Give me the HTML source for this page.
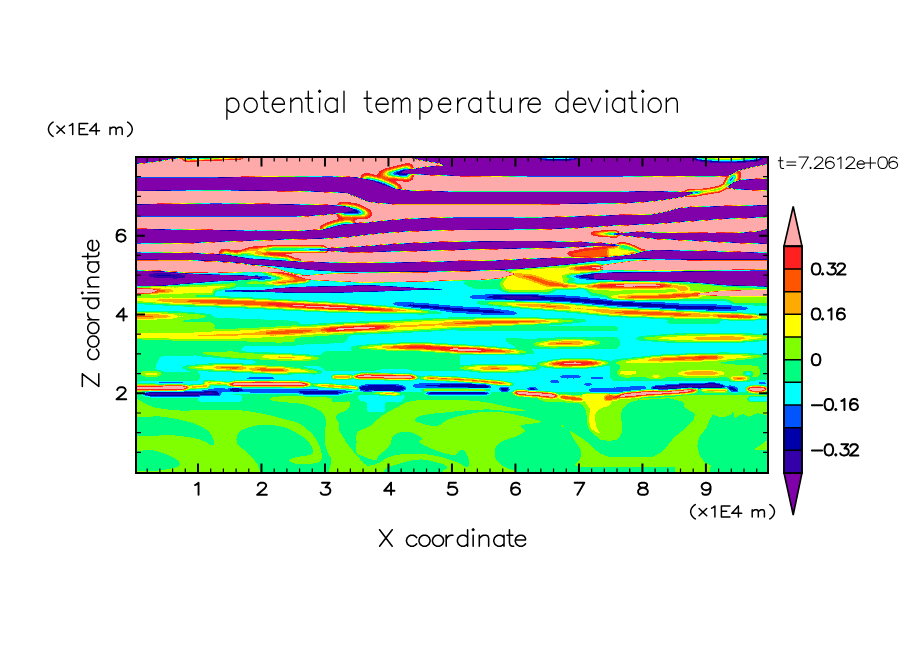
<!DOCTYPE html>
<html><head><meta charset="utf-8"><title>potential temperature deviation</title>
<style>
html,body{margin:0;padding:0;background:#fff;}
body{width:904px;height:654px;overflow:hidden;font-family:"Liberation Sans",sans-serif;}
svg{display:block}
text{font-family:"Liberation Sans",sans-serif;fill:#000}
</style></head><body>
<svg width="904" height="654" viewBox="0 0 904 654">
<defs>
<filter id="q" filterUnits="userSpaceOnUse" x="100" y="120" width="700" height="390" color-interpolation-filters="sRGB">
<feComponentTransfer>
<feFuncR type="discrete" tableValues="0.502 0.2 0 0 0 0 0.502 1 1 1 1 1"/>
<feFuncG type="discrete" tableValues="0 0 0 0.333 1 1 1 1 0.667 0.333 0.125 0.667"/>
<feFuncB type="discrete" tableValues="0.667 0.667 0.667 1 1 0.502 0 0 0 0 0.125 0.667"/>
<feFuncA type="discrete" tableValues="1 1"/>
</feComponentTransfer>
</filter>
<clipPath id="pc"><rect x="136" y="157" width="632" height="316"/></clipPath>
<filter id="bl0_6" filterUnits="userSpaceOnUse" x="100" y="120" width="700" height="390" color-interpolation-filters="sRGB"><feGaussianBlur stdDeviation="0.6"/></filter>
<filter id="bl0_7" filterUnits="userSpaceOnUse" x="100" y="120" width="700" height="390" color-interpolation-filters="sRGB"><feGaussianBlur stdDeviation="0.7"/></filter>
<filter id="bl1_0" filterUnits="userSpaceOnUse" x="100" y="120" width="700" height="390" color-interpolation-filters="sRGB"><feGaussianBlur stdDeviation="1.0"/></filter>
<filter id="bl1_4" filterUnits="userSpaceOnUse" x="100" y="120" width="700" height="390" color-interpolation-filters="sRGB"><feGaussianBlur stdDeviation="1.4"/></filter>
<filter id="bl1_6" filterUnits="userSpaceOnUse" x="100" y="120" width="700" height="390" color-interpolation-filters="sRGB"><feGaussianBlur stdDeviation="1.6"/></filter>
<filter id="bl1_8" filterUnits="userSpaceOnUse" x="100" y="120" width="700" height="390" color-interpolation-filters="sRGB"><feGaussianBlur stdDeviation="1.8"/></filter>
<filter id="bl2_5" filterUnits="userSpaceOnUse" x="100" y="120" width="700" height="390" color-interpolation-filters="sRGB"><feGaussianBlur stdDeviation="2.5"/></filter>
<filter id="bl2_6" filterUnits="userSpaceOnUse" x="100" y="120" width="700" height="390" color-interpolation-filters="sRGB"><feGaussianBlur stdDeviation="2.6"/></filter>
</defs>
<rect width="904" height="654" fill="#fff"/>
<g clip-path="url(#pc)"><g filter="url(#q)">
<g>
<rect fill="rgb(96,96,96)" x="130" y="150" width="650" height="330"/>
<rect fill="rgb(117,117,117)" x="130" y="392" width="650" height="90"/>
</g>
<g>
<path fill="rgb(138,138,138)" d="M130,398.5C131.2,395.8 133.1,397.6 137,399C140.9,400.4 146.5,405.1 153.7,407C160.9,408.9 171.1,410.1 180,410.5C188.9,410.9 196.7,409.7 207,409.7C217.3,409.7 231.7,409.6 242,410.5C252.3,411.4 260.7,413.3 268.7,415C276.7,416.7 285.2,419.2 290,420.5C294.8,421.8 294.8,421.4 297.5,422.7C300.2,424 303.4,426 306.3,428.4C309.2,430.8 312.7,434.1 315,437.2C317.3,440.3 318.8,443.9 320,447.2C321.2,450.5 322.2,454.7 322,457.2C321.8,459.7 321,461.1 318.8,462.2C316.6,463.3 312.6,463.5 308.8,463.8C305.1,464.1 299.4,464.2 296.3,463.8C293.2,463.4 291.1,462.2 290,461.5C288.9,460.8 289.4,460.1 290,459.5C290.6,458.9 291.7,458.4 293.8,457.8C295.9,457.2 299.5,456.6 302.5,456C305.5,455.4 310.4,455.5 312,454C313.6,452.5 312.9,449.6 312,447.2C311.1,444.8 308.7,442 306.3,439.7C303.9,437.4 300.2,435.1 297.5,433.4C294.8,431.7 293.3,430.9 290,429.6C286.7,428.3 283.2,426.5 277.6,425.8C272,425.1 262.3,424.9 256.4,425.6C250.5,426.3 245.4,428.1 242.2,430C238.9,431.9 237.6,434.7 236.9,437.1C236.2,439.5 236.3,441.8 237.8,444.2C239.3,446.6 243.2,448.9 245.7,451.3C248.2,453.7 250.7,456 252.8,458.3C254.9,460.6 256.9,463.2 258.1,465.4C259.3,467.6 259.2,469.8 259.9,471.6C260.5,473.4 283.6,475.3 262,476C240.3,476.7 152,476.7 130,476C108,475.3 126,472.4 130,471.6C133.9,470.8 146.1,471.7 153.7,471C161.3,470.3 171.5,468.6 175.8,467.2C180.1,465.8 180.1,464.6 179.4,462.8C178.7,461 175.7,458.7 171.4,456.6C167.1,454.5 160.6,451.5 153.7,450.4C146.8,449.3 133.9,452.3 130,450C126,447.7 128.7,438.8 130,436.5C131.3,434.2 130.9,436.4 137.8,436.2C144.7,436 161.4,434.9 171.4,435.3C181.4,435.8 191.1,437.3 198,438.9C204.9,440.5 210.5,445.1 213,445.1C215.5,445.1 214,441.4 213,438.9C212,436.4 211,432.8 207,430C203,427.2 196.4,424.2 189,422C181.6,419.8 172.3,417.8 162.5,416.7C152.7,415.6 135.4,418.5 130,415.5C124.6,412.5 128.8,401.2 130,398.5Z"/>
<path fill="rgb(138,138,138)" d="M272,397.5C275,396.8 280.7,396 290,396C299.3,396 320.5,396.6 327.6,397.6C334.7,398.6 329.9,401.3 332.6,402C335.3,402.7 341.3,402.1 344,402C346.7,401.9 348,400.8 349,401.4C350,402 350.8,404.2 350.2,405.8C349.6,407.4 347.3,409.4 345.2,410.8C343.1,412.2 339.2,412.8 337.7,414C336.2,415.2 336.2,416.7 336.4,418.3C336.6,419.9 338.5,421.5 338.9,423.4C339.3,425.3 338,427.1 338.9,429.6C339.8,432.1 342.3,435.7 344,438.4C345.7,441.1 347.1,443.5 349,446C350.9,448.5 353,451 355.2,453.5C357.4,456 359.5,458.8 362,461C364.5,463.2 365.7,465.4 370,466.5C374.3,467.6 385,465.7 388,467.3C391,468.9 397,474.6 388,476C379,477.4 343.4,478.7 334,476C324.6,473.3 332.5,463.7 331.4,459.7C330.3,455.7 328.7,454.7 327.6,452.2C326.6,449.7 325.6,447.4 325.1,444.7C324.6,442 324.4,439.4 324.5,435.9C324.6,432.3 325.8,426.9 325.7,423.4C325.6,419.8 325.7,417.1 323.9,414.6C322.1,412.1 318.7,410.1 315.1,408.3C311.5,406.5 306.7,404.8 302.5,403.9C298.3,403 295.1,403.3 290,402.7C284.9,402.1 275,401.4 272,400.5C269,399.6 269,398.2 272,397.5Z"/>
<path fill="rgb(138,138,138)" d="M357.7,432.1C360,429.4 366.5,428.4 370.3,425.9C374.1,423.4 377,419.6 380.3,417.1C383.6,414.6 387,412.7 390.3,410.8C393.6,408.9 397.1,407.3 400,405.8C402.9,404.3 403,403 407.6,402C412.2,401 419.6,400.1 427.7,399.8C435.8,399.5 446.9,399.7 456,400C465.1,400.3 473.7,400.5 482.5,401.7C491.3,402.9 501.9,405.5 509,407C516.1,408.5 522,408.9 525,410.5C528,412.1 524.1,414.8 526.8,416.7C529.5,418.6 541.6,420.4 541,421.7C540.4,423 526.5,423.8 523.3,424.7C520,425.6 521.2,426.4 521.5,427.4C521.8,428.4 526.2,429.3 525,430.9C523.8,432.5 518.5,435.2 514.4,437.1C510.3,439 503.4,440.3 500.2,442.4C497,444.5 495.7,446.9 495,449.5C494.3,452.1 494.6,455.7 495.8,458.3C497,460.9 498.6,463.2 502,465.4C505.4,467.6 513.5,469.8 516.2,471.6C518.9,473.4 542,475.3 518,476C494,476.7 396.7,477.7 372,476C347.3,474.3 371.2,468.5 370,466C368.8,463.5 366.6,462.7 365,461C363.4,459.3 361.6,457.5 360.2,456C358.8,454.5 357.1,454.5 356.5,452.2C355.9,449.9 356.3,445.5 356.5,442.2C356.7,438.9 355.4,434.8 357.7,432.1Z"/>
<path fill="rgb(117,117,117)" d="M415.1,419C415.9,417.9 418,416.2 422.6,415.2C427.2,414.1 435.2,413.5 442.7,412.7C450.2,411.9 459.9,410.7 467.8,410.2C475.7,409.7 483.1,409.4 490,409.6C496.9,409.8 502.8,410.9 509,411.2C515.2,411.5 523.8,410.4 527,411.3C530.2,412.2 531,416.5 528,416.8C525,417.1 515.3,414.1 509,413.2C502.7,412.3 495.6,411.7 490,411.6C484.4,411.6 480.2,412.2 475.3,412.9C470.4,413.6 464.9,414.7 460.3,415.8C455.7,416.9 451.1,418.1 447.7,419.6C444.3,421.1 443.1,423.9 440.2,424.9C437.3,425.9 434,426.1 430.2,425.6C426.4,425.1 420.1,423.2 417.6,422.1C415.1,421 414.3,420.1 415.1,419Z"/>
<path fill="rgb(117,117,117)" d="M378,456.5C378.8,454.7 381,454 383,452C385,450 388.4,447.2 390,444.7C391.6,442.2 391,439.2 392.5,437.2C394,435.2 396.1,433.6 398.8,432.8C401.5,432 405.7,431.7 408.8,432.1C411.9,432.5 415.4,434.2 417.6,435.3C419.8,436.4 421.8,438 422,439C422.2,440 418.6,440.4 418.9,441.5C419.2,442.6 421.6,444 423.9,445.3C426.2,446.6 429.1,447.7 432.7,449.1C436.2,450.5 441.4,452.6 445.2,453.5C449,454.4 452.8,455.2 455.3,454.7C457.8,454.2 458.9,451 460.3,450.3C461.8,449.6 462.8,449.2 464,450.3C465.2,451.4 467,455 467.8,457.2C468.6,459.4 469.2,461.9 469,463.5C468.8,465.1 467.9,466.6 466.5,466.6C465.1,466.6 463,464.6 460.3,463.5C457.6,462.4 454.2,460.9 450.2,459.7C446.2,458.4 441,456.9 436.4,456C431.8,455.1 427.8,454.4 422.6,454.1C417.4,453.8 410.1,453.8 405.1,454.1C400.1,454.4 396.1,455.1 392.5,456C388.9,456.9 386.2,458.5 383.8,459.7C381.4,460.9 379,463.5 378,463C377,462.5 377.2,458.3 378,456.5Z"/>
<path fill="rgb(117,117,117)" d="M361,455L363.6,456.1L365.9,457.4L367.5,458.4L369.3,458.9L371.7,459.6L373.5,460L375.6,460L378.3,460.3L381,461L381,461L378.7,462.7L376.4,464L373.5,465L370.5,464.4L367.9,463.7L364.9,462.7L363,460.1L361.8,457.7L361,455Z"/>
<path fill="rgb(117,117,117)" d="M387.5,476C378.3,474.6 386,469.2 387.5,467.3C389,465.4 392.3,465.9 396.3,464.7C400.3,463.5 406.8,461.2 411.4,460.4C416,459.6 419.7,459.4 423.9,459.7C428.1,460 432.8,461.2 436.4,462.2C439.9,463.1 443.4,464.3 445.2,465.4C447,466.4 447.5,467.6 447.1,468.5C446.7,469.4 443.4,469.8 442.7,471C442,472.2 451.9,475.2 442.7,476C433.5,476.8 396.7,477.4 387.5,476Z"/>
<path fill="rgb(117,117,117)" d="M452,456C452.7,455.5 454.4,455.8 456,454.8C457.6,453.8 459.5,449.8 461.3,449.8C463.1,449.8 465.4,452.6 466.6,454.8C467.8,457 468.7,460.7 468.7,462.8C468.7,464.9 468.7,467.7 466.6,467.2C464.5,466.7 458.4,461.5 456,460C453.6,458.5 452.7,458.7 452,458C451.3,457.3 451.3,456.5 452,456Z"/>
<path fill="rgb(138,138,138)" d="M545,396C559.5,395.1 616.5,395.4 632,396C647.5,396.6 638.5,398.5 637.8,399.8C637.1,401.1 630.4,401.8 627.7,403.9C625,405.9 622.4,407.8 621.5,412.1C620.6,416.4 622.3,425.6 622.1,429.6C621.9,433.6 621.4,434.1 620.2,435.9C619.1,437.7 618.1,439.6 615.2,440.3C612.3,441 605.5,440.8 602.6,440.3C599.7,439.8 599.7,438.8 597.6,437.2C595.5,435.6 591.9,433.2 590.1,430.9C588.3,428.6 587.6,426.3 587,423.4C586.4,420.5 586.8,416 586.3,413.3C585.8,410.6 585,408.7 583.8,407C582.5,405.3 581.5,404 578.8,403.3C576.1,402.6 573.1,403 567.5,402.7C561.9,402.4 548.8,402.6 545,401.5C541.2,400.4 530.5,396.9 545,396Z"/>
<path fill="rgb(138,138,138)" d="M637.8,399.8L642.5,398.5L669,397L690,395L780,395L780,415L766.8,415L757.6,413.2L748.7,416.7L743.4,414.1L738.1,415.9L735,418.8L733,411L731,415L722.2,417.6L712.5,415L709.8,419.4L706.3,428.2L699.2,437.1L697.4,445.9L699.2,454.8L704.5,461.9L711.6,465.8L709.8,467.2L709.8,476L675,476L675,467.3L578.8,467.3L575,464.7L580.1,459.7L581.3,451L577.6,444.7L572.5,437.2L569.4,430.6L576.3,434.6L585.1,440.3L592.6,447.2L600.1,453.5L610.2,457.2L630.2,456.6L651.4,457.5L660.2,453L667.3,445.9L674.4,437.1L683.3,430L693.9,419.4L694.8,414.1L684.1,407L683.3,401.7L669,398.2L642.5,399.9Z"/>
<path fill="rgb(138,138,138)" d="M754,449.5L766.8,440.6L780,436L780,451Z"/>
<path fill="rgb(138,138,138)" d="M560,424.5L563,425.2L565.5,427.5L563,427Z"/>
</g>
<g filter="url(#bl0_6)">
<path fill="rgb(159,159,159)" d="M583.8,394C588.2,393.1 605.8,392.2 610.2,394C614.6,395.8 611.7,402.1 610.2,404.5C608.7,406.9 603.8,406.8 601.4,408.3C599,409.8 596.7,410.8 595.7,413.3C594.8,415.8 595.4,420.7 595.7,423.4C596,426.1 596.9,427.9 597.6,429.6C598.3,431.3 600.3,433 600.1,433.4C599.9,433.8 597.9,432.9 596.4,432.1C594.9,431.3 592.5,429.8 591.4,428.4C590.2,426.9 589.8,425.9 589.5,423.4C589.2,420.9 589.5,415.8 589.5,413.3C589.5,410.8 589.9,409.8 589.5,408.3C589.1,406.8 588,406 587,404.5C586,403 584.3,401.2 583.8,399.5C583.3,397.8 579.4,394.9 583.8,394Z"/>
</g>
<g filter="url(#bl2_5)">
<path fill="rgb(117,117,117)" d="M130,314L300,321L300,345L130,345.5Z"/>
<path fill="rgb(117,117,117)" d="M130,345L245,345L235,356L130,356Z"/>
<path fill="rgb(117,117,117)" d="M255,359L330,356L330,366L255,366Z"/>
<path fill="rgb(121,121,121)" d="M150,372L200,372L200,381L150,381Z"/>
<path fill="rgb(117,117,117)" d="M130,356L160,356L150,381L130,382Z"/>
<path fill="rgb(117,117,117)" d="M296,333L352,333L345,343L296,345Z"/>
<path fill="rgb(117,117,117)" d="M322,351L460,352L460,371L322,371Z"/>
<path fill="rgb(117,117,117)" d="M456,326L620,326L620,331.5L456,331.5Z"/>
<path fill="rgb(117,117,117)" d="M498,338L620,337L620,349L520,349Z"/>
<path fill="rgb(117,117,117)" d="M610,360L780,358L780,381L610,381Z"/>
<path fill="rgb(117,117,117)" d="M665,320L722,320L722,324.5L665,324.5Z"/>
<path fill="rgb(117,117,117)" d="M456,281L500,280L508,289L474,289Z"/>
<path fill="rgb(117,117,117)" d="M588,289L616,288.5L616,297L590,297Z"/>
<path fill="rgb(138,138,138)" d="M130,322L215,322L215,330L130,330Z"/>
<path fill="rgb(138,138,138)" d="M240,340L296,337L296,343.5L250,344Z"/>
<path fill="rgb(138,138,138)" d="M620,362L700,362L760,366L760,378L620,378Z"/>
<path fill="rgb(138,138,138)" d="M379,359L402,359L402,362.5L379,362.5Z"/>
<path fill="rgb(159,159,159)" d="M725,297.5L780,297.5L780,303L735,303.5Z"/>
<path fill="rgb(159,159,159)" d="M510,268.5L560,265L582,267L596,271L566,281L550,292L505,292L500,284Z"/>
<path fill="rgb(181,181,181)" d="M236,284.5L272,283.8L300,281L304,276.5L285,274.5L270,280L236,282.5Z"/>
</g>
<g filter="url(#bl1_8)">
<path fill="rgb(159,159,159)" d="M60,298L65.5,297.7L71.1,297.4L76.6,297.3L82.1,297.1L87.7,297L93.2,296.9L98.8,296.7L104.3,296.6L109.8,296.5L115.4,296.4L120.9,296.3L126.5,296.3L132,296.2L137.5,296.2L143.1,296.3L148.6,296.3L154.2,296.3L159.7,296.3L165.2,296.3L170.8,296.3L176.3,296.3L181.8,296.5L187.4,296.7L192.9,296.8L198.4,297L203.9,297.2L209.5,297.3L215,297.5L220.5,297.7L226.1,297.8L231.6,298L237.2,298.2L242.7,298.4L248.3,298.7L253.8,299L259.3,299.3L264.9,299.6L270.4,299.9L275.9,300.2L281.4,300.5L287,300.8L292.5,301.1L298,301.3L303.5,301.6L309,301.9L314.6,302.1L320.1,302.4L325.6,302.6L331.2,302.9L336.7,303.3L342.2,303.7L347.7,304.1L353.2,304.6L358.7,305L364.3,305.4L369.8,305.8L375.3,306.3L380.8,306.7L386.3,307.1L391.9,307.6L397.4,308L402.9,308.5L408.4,309L413.9,309.5L419.5,310L425,310.5L430.5,311.1L436,311.7L441.5,312.3L447,313L447,313L441.5,313.1L435.9,313.1L430.4,313.1L424.8,313L419.3,312.9L413.8,312.8L408.2,312.7L402.7,312.6L397.2,312.5L391.6,312.4L386.1,312.4L380.6,312.3L375,312.2L369.5,312.1L364,312L358.4,311.9L352.9,311.8L347.4,311.7L341.8,311.6L336.3,311.5L330.7,311.4L325.2,311.1L319.7,310.9L314.2,310.6L308.6,310.4L303.1,310.1L297.6,309.8L292,309.5L286.5,309.2L281,309L275.5,308.7L269.9,308.4L264.4,308.1L258.9,307.8L253.4,307.5L247.8,307.2L242.3,306.9L236.9,306.7L231.3,306.5L225.8,306.3L220.3,306.2L214.8,306L209.2,305.8L203.7,305.7L198.2,305.5L192.6,305.3L187.1,305.2L181.6,305L176,304.8L170.5,304.5L165,304.2L159.5,303.8L153.9,303.5L148.4,303.2L142.9,302.9L137.4,302.5L131.8,302.2L126.3,301.8L120.8,301.6L115.3,301.3L109.8,301L104.2,300.7L98.7,300.5L93.2,300.2L87.6,299.9L82.1,299.6L76.6,299.2L71.1,298.9L65.5,298.5L60,298Z"/>
<path fill="rgb(212,212,212)" d="M150,300.3L155.4,300.1L160.7,300L166.1,300L171.4,299.9L176.8,299.9L182.1,299.9L187.5,299.8L192.8,299.8L198.2,299.8L203.5,299.8L208.9,299.8L214.2,299.8L219.6,299.8L225,299.8L230.3,299.8L235.7,299.9L241.1,300.1L246.4,300.3L251.8,300.6L257.1,300.9L262.5,301.2L267.8,301.5L273.1,301.8L278.5,302.1L283.8,302.3L289.2,302.6L294.5,302.9L299.9,303.2L305.2,303.4L310.5,303.7L315.9,303.9L321.2,304.2L326.6,304.4L331.9,304.7L337.3,304.9L342.6,305.2L348,305.5L353.3,305.9L358.6,306.3L364,306.7L369.3,307L374.7,307.4L380,307.8L385.3,308.2L390.7,308.6L396,309L401.4,309.4L406.7,309.9L412,310.4L417.4,311L422.7,311.5L428,312.2L428,312.2L422.6,312.2L417.3,312L411.9,311.9L406.6,311.7L401.2,311.5L395.9,311.4L390.5,311.3L385.2,311.2L379.8,311.1L374.5,311L369.1,310.9L363.8,310.8L358.4,310.6L353.1,310.5L347.7,310.4L342.4,310.2L337,309.9L331.7,309.7L326.3,309.4L321,309.2L315.7,308.9L310.3,308.7L305,308.4L299.6,308.2L294.3,307.9L288.9,307.6L283.6,307.3L278.2,307.1L272.9,306.8L267.5,306.5L262.2,306.2L256.8,305.9L251.5,305.6L246.2,305.3L240.8,305L235.5,304.9L230.2,304.7L224.8,304.4L219.5,304.2L214.1,303.9L208.8,303.7L203.5,303.4L198.1,303.1L192.8,302.9L187.4,302.6L182.1,302.3L176.7,302L171.4,301.7L166,301.4L160.7,301.1L155.3,300.7L150,300.3Z"/>
<path fill="rgb(253,253,253)" d="M262,303.5L266.8,303.5L271.5,303.6L276.3,303.7L281.1,303.8L285.8,303.9L290.6,304.1L295.4,304.2L300.1,304.3L304.9,304.4L309.6,304.6L314.4,304.8L319.2,305.1L323.9,305.3L328.7,305.5L333.4,305.7L338.2,305.9L343,306.1L347.7,306.4L352.5,306.6L357.2,306.8L362,307.1L366.7,307.5L371.5,307.9L376.3,308.2L381,308.6L385.8,309L390.5,309.4L395.3,309.9L400,310.4L400,310.4L395.2,310.5L390.5,310.5L385.7,310.5L380.9,310.4L376.2,310.3L371.4,310.3L366.6,310.2L361.9,310.1L357.1,310L352.3,309.8L347.6,309.6L342.8,309.3L338.1,309.1L333.3,308.9L328.5,308.7L323.8,308.5L319,308.2L314.3,308L309.5,307.8L304.7,307.6L300,307.3L295.2,306.9L290.5,306.5L285.7,306L281,305.6L276.2,305.1L271.5,304.6L266.7,304.1L262,303.5Z"/>
<path fill="rgb(149,149,149)" d="M80,316.5L84.8,315.7L89.6,315.1L94.4,314.7L99.1,314.2L103.9,313.8L108.7,313.4L113.5,313L118.3,312.6L123.1,312.5L127.8,312.5L132.6,312.5L137.4,312.4L142.2,312.4L147,312.4L151.8,312.3L156.5,312.3L161.3,312.3L166.1,312.3L170.9,312.2L175.7,312.4L180.5,312.7L185.3,313.1L190.1,313.4L194.8,313.8L199.6,314.2L204.4,314.7L209.2,315.2L214,316L214,316L209.2,316.8L204.4,317.4L199.7,317.9L194.9,318.4L190.1,318.8L185.3,319.3L180.5,319.7L175.7,320.1L171,320.2L166.2,320.3L161.4,320.3L156.6,320.3L151.8,320.3L147,320.4L142.2,320.4L137.5,320.4L132.7,320.5L127.9,320.5L123.1,320.5L118.3,320.4L113.5,320L108.7,319.6L103.9,319.2L99.1,318.8L94.4,318.3L89.6,317.9L84.8,317.3L80,316.5Z"/>
<path fill="rgb(198,198,198)" d="M90,316.5L94.3,315.9L98.6,315.4L102.9,315L107.2,314.7L111.5,314.4L115.8,314L120.1,314L124.4,314L128.7,314L133,314L137.3,314L141.6,314L145.9,314L150.2,314L154.5,314.3L158.8,314.6L163.1,314.9L167.4,315.3L171.7,315.7L176,316.3L176,316.3L171.7,316.9L167.4,317.4L163.1,317.8L158.8,318.1L154.5,318.4L150.2,318.8L145.9,318.8L141.6,318.8L137.3,318.8L133,318.8L128.7,318.8L124.4,318.8L120.1,318.8L115.8,318.8L111.5,318.5L107.2,318.2L102.9,317.9L98.6,317.5L94.3,317.1L90,316.5Z"/>
<path fill="rgb(149,149,149)" d="M70,335L75.7,334.6L81.3,334.3L87,334.1L92.6,333.9L98.3,333.7L103.9,333.5L109.6,333.4L115.3,333.2L120.9,333.1L126.6,332.9L132.2,332.8L137.9,332.6L143.6,332.5L149.2,332.4L154.9,332.2L160.5,332.1L166.2,332L171.8,331.9L177.5,331.7L183.2,331.6L188.7,331.5L194.3,331.2L199.9,330.9L205.6,330.6L211.2,330.3L216.9,330L222.5,329.6L228.2,329.4L233.8,329.2L239.5,329.1L245,328.8L250.6,328.5L256.3,328.2L261.9,327.9L267.6,327.6L273.2,327.3L278.9,326.9L284.5,326.6L290.2,326.3L295.8,326L301.5,325.7L307.1,325.4L312.8,325L318.4,324.7L324.1,324.4L329.7,324.1L335.3,323.8L341,323.4L346.7,323.1L352.4,322.9L358,322.6L363.7,322.4L369.3,322.2L375,321.9L380.6,321.7L386.3,321.4L391.9,321.2L397.6,321L403.2,320.7L408.8,320.4L414.5,320.1L420.1,319.9L425.8,319.6L431.4,319.3L437.1,319.1L442.7,318.9L448.4,318.8L454.1,318.6L459.8,318.6L465.4,318.5L471.1,318.4L476.7,318.4L482.4,318.3L488.1,318.3L493.7,318.2L499.4,318.2L505.1,318.3L510.8,318.4L516.4,318.5L522.1,318.6L527.8,318.7L533.4,318.8L539.1,318.9L544.7,319L550.4,319.2L556,319.3L561.7,319.4L567.4,319.6L573,319.7L578.7,319.9L584.3,320.1L590,320.5L590,320.5L584.4,321.1L578.7,321.5L573.1,321.8L567.4,322.2L561.7,322.5L556.1,322.8L550.4,323.1L544.8,323.4L539.1,323.7L533.5,323.9L527.8,324.2L522.2,324.4L516.5,324.7L510.9,325L505.2,325.2L499.6,325.5L494,325.9L488.4,326.2L482.7,326.6L477.1,327L471.4,327.4L465.8,327.8L460.1,328.1L454.5,328.5L448.9,329L443.3,329.4L437.6,329.9L432,330.3L426.3,330.5L420.7,330.8L415,331.1L409.4,331.4L403.7,331.7L398,332L392.4,332.2L386.7,332.4L381.1,332.7L375.4,332.9L369.8,333.1L364.1,333.4L358.5,333.6L352.8,333.8L347.2,334.1L341.6,334.4L336,334.7L330.3,335.1L324.7,335.4L319,335.7L313.4,336L307.7,336.3L302.1,336.7L296.4,337L290.8,337.3L285.1,337.6L279.5,337.9L273.8,338.2L268.2,338.6L262.6,338.9L256.9,339.2L251.3,339.5L245.6,339.8L239.9,340.1L234.2,340.2L228.5,340.4L222.9,340.5L217.2,340.5L211.5,340.5L205.9,340.5L200.2,340.5L194.5,340.5L188.8,340.5L183.1,340.3L177.4,340.1L171.8,339.8L166.1,339.6L160.5,339.4L154.8,339.2L149.2,339L143.5,338.7L137.8,338.5L132.2,338.3L126.5,338L120.9,337.8L115.2,337.5L109.6,337.3L103.9,337L98.3,336.8L92.6,336.5L87,336.2L81.3,335.9L75.7,335.5L70,335Z"/>
<path fill="rgb(172,172,172)" d="M70,335L75.7,334.8L81.3,334.7L87,334.6L92.6,334.5L98.3,334.5L103.9,334.4L109.6,334.3L115.3,334.3L120.9,334.2L126.6,334.2L132.2,334.1L137.9,334.1L143.5,334L149.2,334L154.9,334L160.5,333.9L166.2,333.9L171.8,333.9L177.5,333.8L183.1,333.8L188.8,333.7L194.4,333.6L200,333.3L205.7,333.1L211.3,332.8L217,332.6L222.6,332.4L228.3,332.1L233.9,332L239.6,331.8L245.2,331.6L250.8,331.3L256.4,330.9L262.1,330.6L267.7,330.3L273.4,330L279,329.7L284.7,329.4L290.3,329.1L296,328.7L301.6,328.4L307.3,328.1L312.9,327.8L318.6,327.5L324.2,327.1L329.9,326.8L335.5,326.5L341.2,326.2L346.8,325.9L352.5,325.6L358.1,325.4L363.8,325.1L369.4,324.9L375.1,324.7L380.7,324.4L386.4,324.2L392,324L397.7,323.7L403.3,323.5L409,323.2L414.6,322.9L420.3,322.6L425.9,322.3L431.6,322L437.2,321.8L442.9,321.5L448.5,321.3L454.2,321.1L459.9,321L465.5,320.8L471.2,320.7L476.8,320.5L482.5,320.4L488.1,320.3L493.8,320.1L499.5,320L505.1,320L510.8,320L516.5,320L522.1,320L527.8,320.1L533.4,320.1L539.1,320.1L544.7,320.1L550.4,320.1L556.1,320.2L561.7,320.2L567.4,320.2L573,320.3L578.7,320.3L584.3,320.4L590,320.5L590,320.5L584.3,320.8L578.7,321.1L573,321.3L567.4,321.5L561.7,321.7L556.1,321.9L550.4,322.1L544.8,322.3L539.1,322.5L533.5,322.6L527.8,322.8L522.2,323L516.5,323.1L510.8,323.3L505.2,323.5L499.6,323.6L493.9,323.9L488.3,324.2L482.6,324.6L477,324.9L471.3,325.1L465.7,325.4L460,325.7L454.4,326.1L448.8,326.4L443.1,326.8L437.5,327.2L431.8,327.5L426.2,327.8L420.6,328.1L414.9,328.4L409.3,328.7L403.6,329L397.9,329.2L392.3,329.5L386.6,329.7L381,329.9L375.3,330.2L369.7,330.4L364,330.6L358.4,330.9L352.7,331.1L347.1,331.4L341.5,331.7L335.8,332L330.2,332.3L324.5,332.6L318.9,333L313.2,333.3L307.6,333.6L301.9,333.9L296.3,334.2L290.6,334.6L285,334.9L279.3,335.2L273.7,335.5L268,335.8L262.4,336.1L256.8,336.4L251.1,336.7L245.4,337.1L239.8,337.3L234.1,337.5L228.4,337.6L222.8,337.8L217.1,337.8L211.5,337.9L205.8,338L200.1,338.1L194.5,338.2L188.8,338.2L183.1,338.1L177.4,338L171.8,337.8L166.1,337.7L160.5,337.6L154.8,337.4L149.2,337.3L143.5,337.2L137.9,337L132.2,336.9L126.5,336.8L120.9,336.6L115.2,336.5L109.6,336.3L103.9,336.2L98.3,336L92.6,335.8L87,335.7L81.3,335.5L75.7,335.3L70,335Z"/>
<path fill="rgb(212,212,212)" d="M256,333.5L260,332.7L264,332.1L267.9,331.5L271.9,331L275.9,330.5L279.9,330.3L283.9,330.1L287.9,329.9L291.9,329.7L295.9,329.5L299.9,329.3L303.9,329.3L307.9,329.3L311.9,329.5L316,329.6L320,330L320,330L316,330.9L312.1,331.5L308.1,332.2L304.1,332.7L300.1,333.2L296.1,333.5L292.1,333.7L288.1,333.9L284.1,334.1L280.1,334.3L276.1,334.5L272.1,334.4L268.1,334.3L264.1,334.1L260,333.9L256,333.5Z"/>
<path fill="rgb(253,253,253)" d="M316,330.3L320.1,329.5L324.2,328.9L328.2,328.3L332.3,327.8L336.4,327.3L340.5,326.9L344.6,326.6L348.7,326.4L352.8,326.2L357,326.1L361.1,325.9L365.2,325.7L369.3,325.5L373.4,325.6L377.5,325.7L381.6,325.8L385.7,326L389.9,326.2L394,326.6L394,326.6L389.9,327.3L385.8,327.9L381.7,328.4L377.6,328.9L373.5,329.4L369.5,329.7L365.3,329.9L361.2,330.1L357.1,330.3L353,330.4L348.9,330.6L344.8,330.8L340.7,331.1L336.6,331.1L332.5,331L328.4,330.9L324.3,330.8L320.1,330.6L316,330.3Z"/>
<path fill="rgb(212,212,212)" d="M441,324.2L445.6,323.6L450.2,323.1L454.8,322.6L459.4,322.2L464,321.8L468.6,321.4L473.2,321L477.8,320.6L482.4,320.4L487.1,320.2L491.7,320L496.3,319.8L500.9,319.7L505.6,319.6L510.2,319.6L514.8,319.5L519.4,319.4L524,319.4L528.7,319.5L533.3,319.6L537.9,319.8L542.5,320L547.1,320.2L551.8,320.4L556.4,320.6L561,321L561,321L556.4,321.5L551.8,321.9L547.2,322.2L542.5,322.5L537.9,322.8L533.3,323.1L528.7,323.4L524.1,323.6L519.5,323.6L514.9,323.7L510.2,323.8L505.6,323.8L501,323.9L496.4,324L491.8,324.2L487.2,324.4L482.6,324.6L478,324.8L473.4,324.8L468.8,324.8L464.1,324.8L459.5,324.7L454.9,324.7L450.3,324.6L445.6,324.5L441,324.2Z"/>
<path fill="rgb(149,149,149)" d="M196,353L200.7,352.6L205.5,352.5L210.2,352.4L214.9,352.3L219.6,352.2L224.3,352.2L229.1,352.1L233.8,352.1L238.5,352.4L243.2,352.6L247.9,352.9L252.5,353.1L257.2,353.2L261.9,353.4L266.6,353.5L271.3,353.7L276,353.8L280.7,354L285.4,354.2L290.1,354.6L294.8,355.1L299.5,355.5L304.2,355.9L308.9,356.4L313.6,356.9L318.3,357.5L323,358.2L323,358.2L318.3,358.7L313.6,359L308.8,359.3L304.1,359.5L299.4,359.7L294.7,359.9L290,360L285.3,360.1L280.5,360L275.8,359.8L271.1,359.7L266.4,359.5L261.7,359.4L257,359.2L252.3,359.1L247.6,358.9L242.8,358.6L238.1,358.3L233.4,358.1L228.8,357.5L224.1,357L219.4,356.4L214.7,355.8L210,355.2L205.3,354.6L200.7,353.9L196,353Z"/>
<path fill="rgb(181,181,181)" d="M262,356.6L265.9,356.1L269.8,355.9L273.6,355.7L277.5,355.5L281.4,355.4L285.3,355.5L289.1,355.6L293,355.8L296.8,355.9L300.7,356L304.6,356.2L308.4,356.6L312.3,357.1L316.1,357.5L320,358.2L320,358.2L316.1,358.7L312.2,359L308.4,359.2L304.5,359.4L300.6,359.5L296.8,359.4L292.9,359.3L289,359.1L285.1,359L281.3,358.9L277.4,358.7L273.6,358.2L269.7,357.8L265.8,357.3L262,356.6Z"/>
<path fill="rgb(170,170,170)" d="M180,367.5L184.8,366.9L189.6,366.4L194.4,366.1L199.2,365.7L204,365.4L208.8,365.1L213.6,364.8L218.4,364.5L223.2,364.2L228.1,364.3L233,364.4L237.8,364.7L242.6,365L247.4,365.2L252.2,365.5L257,365.8L261.8,366.1L266.6,366.3L271.4,366.6L276.1,366.7L280.9,366.8L285.7,367.2L290.5,367.7L295.4,368.1L300.2,368.7L305,369.4L309.7,370.1L314.5,370.8L319.3,371.5L324,372.5L324,372.5L319.2,372.8L314.3,372.9L309.5,372.9L304.7,372.9L299.9,372.9L295.1,372.9L290.4,373L285.6,373.2L280.7,373.3L275.9,373.2L271.1,373.1L266.3,372.8L261.4,372.6L256.6,372.3L251.9,372L247.1,371.7L242.3,371.5L237.5,371.2L232.7,370.9L228,370.7L223.2,370.8L218.4,370.5L213.6,370.2L208.8,369.9L204,369.6L199.2,369.3L194.4,368.9L189.6,368.6L184.8,368.1L180,367.5Z"/>
<path fill="rgb(212,212,212)" d="M214,367.3L216.9,366.7L219.8,366.3L222.7,366L225.7,365.9L228.6,365.9L231.5,366L234.4,366L237.3,366.1L240.2,366.5L243.1,367L246,367.6L246,367.6L243.1,368.2L240.2,368.6L237.3,368.9L234.3,369L231.4,369L228.5,368.9L225.6,368.9L222.7,368.8L219.8,368.4L216.9,367.9L214,367.3Z"/>
<path fill="rgb(223,223,223)" d="M250,369.5L253.3,369L256.7,368.7L260,368.4L263.4,368.3L266.7,368.4L270,368.5L273.4,368.6L276.7,368.6L280,368.8L283.3,369.2L286.7,369.7L290,370.3L290,370.3L286.7,370.8L283.3,371.2L280,371.5L276.6,371.6L273.3,371.5L270,371.5L266.6,371.4L263.3,371.3L260,371.1L256.6,370.6L253.3,370.2L250,369.5Z"/>
<path fill="rgb(159,159,159)" d="M139,373.6L141.4,372.6L143.8,371.9L146.2,371.4L148.6,371.4L151,371.4L153.4,371.4L155.8,371.4L158.2,371.9L160.6,372.6L163,373.6L163,373.6L160.6,374.6L158.2,375.3L155.8,375.9L153.4,375.9L151,375.9L148.6,375.9L146.2,375.9L143.8,375.3L141.4,374.6L139,373.6Z"/>
<path fill="rgb(170,170,170)" d="M349,348L354,347.3L359.1,346.7L364.1,346.2L369.2,345.8L374.3,345.4L379.3,345.1L384.4,344.8L389.4,344.5L394.5,344.2L399.5,343.9L404.6,343.6L409.7,343.6L414.7,343.5L419.9,343.5L425.1,343.8L430.1,344.1L435.2,344.4L440.2,344.7L445.3,345L450.3,345.3L455.3,345.7L460.3,345.9L465.4,346.1L470.4,346.3L475.5,346.5L480.6,346.8L485.6,347.2L490.6,347.7L495.7,348.1L500.7,348.6L505.8,349.1L510.8,349.6L515.9,350.1L520.9,350.6L525.9,351.2L531,351.7L536,352.5L536,352.5L530.9,352.9L525.9,353.1L520.8,353.3L515.7,353.4L510.6,353.4L505.6,353.5L500.5,353.6L495.5,353.6L490.4,353.7L485.3,353.7L480.3,353.7L475.2,353.5L470.2,353.3L465.1,353.1L460,352.9L455,352.6L449.9,352.3L444.8,352L439.8,351.7L434.7,351.4L429.7,351.1L424.6,350.8L419.7,350.5L414.8,350.5L409.7,350.6L404.7,350.6L399.6,350.4L394.5,350.2L389.5,350L384.4,349.7L379.4,349.5L374.3,349.3L369.2,349L364.2,348.8L359.1,348.6L354.1,348.4L349,348Z"/>
<path fill="rgb(234,234,234)" d="M380,347.3L384.8,346.8L389.7,346.5L394.5,346.2L399.3,345.9L404.1,345.6L409,345.4L413.8,345.1L418.7,344.9L423.6,345L428.4,345.3L433.3,345.6L438.1,345.9L442.9,346.2L447.7,346.5L452.6,346.8L457.4,347.1L462.2,347.3L467,347.5L471.8,347.7L476.6,347.9L481.5,348.3L486.3,348.7L491.1,349.1L495.9,349.5L500.7,349.9L505.6,350.4L510.4,350.8L515.2,351.4L520,352L520,352L515.2,352.2L510.3,352.3L505.5,352.4L500.6,352.4L495.8,352.5L491,352.5L486.1,352.5L481.3,352.5L476.5,352.4L471.6,352.2L466.8,352L462,351.8L457.1,351.6L452.3,351.3L447.4,351L442.6,350.7L437.8,350.4L433,350.1L428.2,349.8L423.4,349.5L418.6,349.1L413.8,349L409,348.8L404.2,348.6L399.3,348.4L394.5,348.2L389.7,348L384.8,347.7L380,347.3Z"/>
<path fill="rgb(255,255,255)" d="M444,349.3L447.3,348.8L450.7,348.5L454,348.3L457.3,348.1L460.6,348.2L463.9,348.3L467.2,348.3L470.5,348.4L473.8,348.4L477.1,348.8L480.4,349.3L483.7,349.8L487,350.5L487,350.5L483.7,351.1L480.4,351.5L477,351.8L473.7,352L470.4,352L467.1,351.9L463.8,351.9L460.5,351.8L457.2,351.7L453.9,351.3L450.6,350.7L447.3,350.1L444,349.3Z"/>
<path fill="rgb(170,170,170)" d="M474,302.5L479.5,302.3L485,302.2L490.4,302.2L495.9,302.2L501.4,302.2L506.8,302.2L512.3,302.2L517.8,302.3L523.3,302.4L528.7,302.5L534.2,302.7L539.7,302.8L545.1,303L550.6,303.2L556.1,303.3L561.5,303.5L567,303.7L572.5,304.2L578,304.7L583.4,305.2L588.9,305.7L594.3,306.2L599.7,306.7L605.2,307.2L610.6,307.7L616,308.2L621.3,308.4L626.8,308.6L632.2,308.8L637.7,309L643.2,309.2L648.6,309.4L654.1,309.6L659.5,309.8L665,310L670.5,310.2L675.9,310.4L681.4,310.6L686.8,310.8L692.3,311L697.7,311.4L703.2,311.7L708.7,312.1L714.1,312.5L719.6,312.8L725,313.2L730.5,313.6L735.9,313.9L741.4,314.3L746.8,314.7L752.3,315.1L757.7,315.5L763.2,315.9L768.6,316.3L774.1,316.8L779.6,317.2L785,317.8L785,317.8L779.5,318.1L774.1,318.2L768.6,318.4L763.1,318.4L757.6,318.5L752.2,318.5L746.7,318.5L741.2,318.6L735.8,318.6L730.3,318.6L724.8,318.6L719.4,318.6L713.9,318.6L708.4,318.6L703,318.5L697.5,318.5L692,318.5L686.6,318.3L681.1,318.1L675.6,317.9L670.2,317.7L664.7,317.5L659.3,317.3L653.8,317.1L648.3,316.9L642.9,316.7L637.4,316.5L632,316.3L626.5,316.1L621,315.9L615.5,315.7L609.9,315.2L604.5,314.7L599,314.2L593.6,313.7L588.2,313.2L582.7,312.6L577.3,312.1L571.9,311.6L566.5,311.1L561.1,310.6L555.6,310.1L550.2,309.6L544.7,309.1L539.3,308.6L533.9,308.1L528.4,307.5L523,307L517.6,306.5L512.1,306.1L506.7,305.6L501.2,305.2L495.8,304.7L490.3,304.2L484.9,303.7L479.4,303.2L474,302.5Z"/>
<path fill="rgb(202,202,202)" d="M509,304.5L512.8,304.1L516.7,303.9L520.5,303.7L524.3,303.5L528.1,303.4L532,303.6L535.8,303.7L539.6,303.9L543.4,304.1L547.3,304.4L551.1,304.6L554.9,305.1L558.6,305.6L562.4,306.2L566.2,306.8L570,307.6L570,307.6L566.2,307.9L562.3,308L558.5,308.1L554.7,308.2L550.8,308.2L547,307.9L543.2,307.7L539.4,307.5L535.6,307.3L531.8,307.2L528,307L524.2,306.7L520.4,306.2L516.6,305.7L512.8,305.2L509,304.5Z"/>
<path fill="rgb(210,210,210)" d="M594,310.4L598.7,310.4L603.5,310.5L608.2,310.7L612.9,310.8L617.6,310.9L622.3,310.9L627.1,310.9L631.8,311L636.5,311.1L641.2,311.3L646,311.5L650.7,311.7L655.4,311.8L660.1,312L664.8,312.2L669.6,312.4L674.3,312.5L679,312.8L683.7,313.2L688.4,313.5L693.2,313.9L697.9,314.3L702.6,314.7L707.3,315.1L712,315.7L712,315.7L707.3,315.9L702.5,316L697.8,316.1L693.1,316.1L688.3,316.2L683.6,316.2L678.9,316.2L674.2,316.1L669.4,316L664.7,315.8L660,315.6L655.3,315.4L650.5,315.3L645.8,315.1L641.1,314.9L636.4,314.7L631.7,314.6L626.9,314.3L622.2,314L617.5,313.6L612.8,313.1L608.1,312.5L603.4,311.8L598.7,311.2L594,310.4Z"/>
<path fill="rgb(234,234,234)" d="M712,315.8L715.6,315.3L719.2,314.9L722.8,314.6L726.3,314.4L729.9,314.4L733.5,314.5L737.1,314.6L740.6,314.7L744.2,314.9L747.8,315.1L751.3,315.5L754.9,316.1L758.5,316.6L762,317.4L762,317.4L758.4,317.9L754.8,318.2L751.2,318.5L747.6,318.7L744.1,318.6L740.5,318.5L736.9,318.4L733.4,318.3L729.8,318.2L726.2,318L722.7,317.6L719.1,317.1L715.6,316.5L712,315.8Z"/>
<path fill="rgb(170,170,170)" d="M532,344.5L536.1,343.5L540.2,342.7L544.3,342.1L548.4,341.4L552.5,340.8L556.6,340.6L560.7,340.5L564.8,340.3L569,340.2L573.1,340.1L577.2,340L581.3,340L585.5,340.4L589.6,340.8L593.7,341.2L597.9,341.7L602,342.5L602,342.5L597.9,343.5L593.8,344.2L589.7,344.8L585.6,345.4L581.5,345.9L577.4,346L573.2,346.1L569.1,346.2L565,346.3L560.9,346.5L556.8,346.6L552.7,346.7L548.6,346.4L544.4,346.1L540.3,345.7L536.1,345.2L532,344.5Z"/>
<path fill="rgb(206,206,206)" d="M546,343.6L549.2,343L552.3,342.5L555.5,342.1L558.6,341.9L561.8,341.9L565,341.8L568.1,341.8L571.3,341.7L574.5,341.8L577.7,342.1L580.8,342.5L584,343L584,343L580.8,343.6L577.7,344.1L574.5,344.5L571.4,344.7L568.2,344.7L565,344.8L561.9,344.8L558.7,344.9L555.5,344.8L552.3,344.5L549.2,344.1L546,343.6Z"/>
<path fill="rgb(170,170,170)" d="M536,364.5L540.2,363.3L544.4,362.5L548.6,361.7L552.8,361L557,360.3L561.2,360L565.4,359.9L569.7,359.8L573.9,359.7L578.2,359.7L582.4,359.6L586.6,359.6L590.8,359.7L595.1,360.2L599.3,360.7L603.5,361.3L607.8,362L612,363L612,363L607.8,364.1L603.6,364.9L599.4,365.6L595.1,366.2L590.9,366.8L586.7,367.1L582.5,367.1L578.3,367.2L574,367.2L569.9,367.3L565.7,367.4L561.4,367.5L557.2,367.4L553,367L548.7,366.5L544.5,366L540.3,365.4L536,364.5Z"/>
<path fill="rgb(234,234,234)" d="M548,363.8L551.7,363L555.3,362.4L559,361.9L562.6,361.5L566.3,361.2L570,361.2L573.6,361.1L577.3,361.1L581,361.1L584.6,361L588.3,361.2L592,361.6L595.7,362L599.3,362.5L603,363.2L603,363.2L599.3,364L595.7,364.5L592,365L588.3,365.4L584.7,365.6L581,365.7L577.4,365.7L573.7,365.7L570,365.8L566.4,365.8L562.7,365.7L559,365.3L555.4,364.9L551.7,364.5L548,363.8Z"/>
<path fill="rgb(255,255,255)" d="M560,363.5L562.4,362.9L564.8,362.5L567.2,362.1L569.6,362.1L572,362.1L574.4,362.1L576.8,362.1L579.2,362.4L581.6,362.7L584,363.3L584,363.3L581.6,363.9L579.2,364.3L576.8,364.7L574.4,364.7L572,364.7L569.6,364.7L567.2,364.7L564.8,364.4L562.4,364.1L560,363.5Z"/>
<path fill="rgb(164,164,164)" d="M456,368L460.3,367.2L464.5,366.6L468.8,366.2L473,365.7L477.3,365.3L481.5,364.9L485.8,365L490,365L494.3,365L498.5,365L502.7,365L507,365L511.2,365L515.5,364.9L519.7,365.3L524,365.7L528.2,366.2L532.5,366.6L536.7,367.2L541,368L541,368L536.8,368.9L532.5,369.5L528.3,370L524,370.5L519.8,371L515.5,371.4L511.3,371.5L507,371.5L502.8,371.5L498.5,371.5L494.2,371.5L490,371.5L485.7,371.5L481.5,371.4L477.2,371L473,370.5L468.7,370L464.5,369.5L460.2,368.9L456,368Z"/>
<path fill="rgb(206,206,206)" d="M479,368.3L481.7,367.7L484.5,367.3L487.2,366.9L489.9,366.8L492.6,366.8L495.4,366.9L498.1,366.9L500.8,367L503.5,367.4L506.3,367.8L509,368.4L509,368.4L506.3,369L503.5,369.4L500.8,369.8L498.1,369.9L495.4,369.9L492.6,369.8L489.9,369.8L487.2,369.7L484.5,369.3L481.7,368.9L479,368.3Z"/>
<path fill="rgb(155,155,155)" d="M634,338.5L638.9,337.8L643.7,337.2L648.6,336.8L653.5,336.4L658.3,336L663.2,335.6L668.1,335.2L672.9,334.9L677.8,334.5L682.7,334.4L687.6,334.3L692.4,334.3L697.3,334.3L702.2,334.2L707,334.2L711.9,334.2L716.8,334.2L721.7,334.1L726.5,334.1L731.4,334.1L736.3,334L741.1,334.1L746,334.4L750.9,334.7L755.8,335L760.6,335.3L765.5,335.6L770.4,336L775.3,336.4L780.1,336.8L785,337.5L785,337.5L780.1,338.2L775.3,338.7L770.4,339.2L765.5,339.6L760.7,340L755.8,340.4L750.9,340.7L746.1,341.1L741.2,341.4L736.3,341.5L731.4,341.6L726.6,341.6L721.7,341.6L716.8,341.7L712,341.7L707.1,341.7L702.2,341.7L697.3,341.8L692.5,341.8L687.6,341.8L682.7,341.9L677.9,341.8L673,341.6L668.1,341.3L663.2,341L658.4,340.7L653.5,340.3L648.6,340L643.8,339.6L638.9,339.2L634,338.5Z"/>
<path fill="rgb(202,202,202)" d="M689,338.7L692.9,338.2L696.7,337.8L700.6,337.5L704.5,337.2L708.4,337L712.2,337L716.1,337L720,337L723.9,336.9L727.7,336.9L731.6,336.9L735.5,337.1L739.4,337.4L743.2,337.7L747.1,338.1L751,338.6L751,338.6L747.1,339.1L743.3,339.5L739.4,339.8L735.5,340.1L731.6,340.3L727.8,340.3L723.9,340.3L720,340.3L716.1,340.4L712.3,340.4L708.4,340.4L704.5,340.2L700.6,339.9L696.8,339.6L692.9,339.2L689,338.7Z"/>
<path fill="rgb(164,164,164)" d="M612,363L616.9,361.9L621.8,361.1L626.7,360.3L631.5,359.5L636.4,358.8L641.4,358L646.3,357.4L651.3,356.8L656.2,356.3L661.1,355.9L666.1,355.6L671,355.4L676,355.3L680.9,355.1L685.9,354.9L690.8,354.8L695.8,354.6L700.7,354.4L705.6,354.3L710.6,354.1L715.5,353.9L720.5,353.8L725.4,353.8L730.4,353.9L735.3,354.1L740.3,354.3L745.2,354.5L750.2,354.7L755.1,354.9L760.1,355.2L765,355.5L770,356L770,356L765.1,356.8L760.1,357.3L755.2,357.8L750.3,358.3L745.3,358.8L740.4,359.2L735.5,359.6L730.5,360L725.6,360.5L720.7,360.8L715.8,360.9L710.8,361.1L705.9,361.3L700.9,361.4L696,361.6L691.1,361.8L686.1,361.9L681.2,362.1L676.2,362.3L671.3,362.4L666.4,362.6L661.5,362.9L656.5,363L651.6,362.9L646.7,362.9L641.8,362.9L636.8,363L631.9,363.1L626.9,363.2L621.9,363.2L617,363.2L612,363Z"/>
<path fill="rgb(208,208,208)" d="M645,360.2L649.2,359.4L653.5,358.8L657.7,358.3L662,357.8L666.2,357.2L670.5,356.9L674.8,356.7L679,356.6L683.3,356.5L687.6,356.4L691.8,356.3L696.1,356.2L700.4,356.1L704.6,356.1L708.9,356.3L713.2,356.5L717.4,356.7L721.7,356.9L726,357.3L726,357.3L721.7,357.9L717.5,358.4L713.2,358.8L709,359.2L704.7,359.6L700.5,359.9L696.2,360L691.9,360.1L687.7,360.2L683.4,360.3L679.1,360.4L674.9,360.5L670.6,360.7L666.4,360.7L662.1,360.7L657.8,360.6L653.6,360.6L649.3,360.5L645,360.2Z"/>
<path fill="rgb(234,234,234)" d="M689,358L692,357.4L695,356.9L698,356.5L701,356.3L704,356.3L707,356.2L710,356.2L713,356.2L716,356.5L719,356.8L722,357.3L722,357.3L719,357.9L716,358.4L713,358.8L710,359L707,359L704,359.1L701,359.1L698,359.1L695,358.8L692,358.5L689,358Z"/>
<path fill="rgb(208,208,208)" d="M676,373.5L679.6,372.9L683.1,372.4L686.7,372L690.3,371.7L693.8,371.5L697.4,371.5L701,371.4L704.6,371.5L708.2,371.5L711.7,371.6L715.3,372L718.9,372.4L722.4,372.8L726,373.4L726,373.4L722.4,373.9L718.8,374.2L715.3,374.5L711.7,374.7L708.1,374.7L704.5,374.7L701,374.6L697.5,374.7L693.9,374.7L690.3,374.7L686.7,374.5L683.2,374.3L679.6,374L676,373.5Z"/>
<path fill="rgb(223,223,223)" d="M729.5,378.6L731.7,377.8L733.8,377.3L736,376.9L738.2,376.9L740.3,376.9L742.5,376.9L744.7,377.2L746.8,377.7L749,378.4L749,378.4L746.8,379.2L744.7,379.7L742.5,380.1L740.3,380.1L738.2,380.1L736,380.1L733.8,379.8L731.7,379.3L729.5,378.6Z"/>
<path fill="rgb(170,170,170)" d="M616,372.8L618.6,372.1L621.1,371.6L623.7,371.3L626.2,371.3L628.8,371.3L631.3,371.3L633.9,371.6L636.4,372.1L639,372.8L639,372.8L636.4,373.5L633.9,374L631.3,374.3L628.8,374.3L626.2,374.3L623.7,374.3L621.1,374L618.6,373.5L616,372.8Z"/>
<path fill="rgb(170,170,170)" d="M648,376.7L650,376.1L652,375.7L654,375.5L656,375.5L658,375.5L660,375.7L662,376.1L664,376.7L664,376.7L662,377.3L660,377.7L658,377.9L656,377.9L654,377.9L652,377.7L650,377.3L648,376.7Z"/>
<path fill="rgb(212,212,212)" d="M511,274L515.3,274.1L519.5,274.4L523.8,274.7L528.1,275.1L532.4,275.8L536.6,277.1L540.6,278.5L544.6,279.9L548.4,281.2L552.3,281.8L556.5,282.4L560.7,283L564.8,283.6L568.8,283.9L573.1,284.3L577.3,284.7L581.5,285.1L585.8,285.5L590,286.2L590,286.2L585.8,286.8L581.5,287.2L577.3,287.5L573,287.8L568.8,288.1L564.4,288.2L560,287.6L555.9,287L551.7,286.4L547.3,285.7L543.1,284.2L539.1,282.8L535.1,281.4L531.2,279.8L527.4,278.5L523.3,277.5L519.2,276.4L515.1,275.3L511,274Z"/>
<path fill="rgb(53,53,53)" d="M390,303.6L394.9,303.3L399.7,303.3L404.6,303.3L409.4,303.3L414.3,303.4L419.1,303.7L423.9,304.1L428.7,304.5L433.5,304.9L438.3,305.4L443.1,305.8L448,306.2L452.8,306.7L457.5,307.1L462.3,307.4L467.1,307.7L472,308L476.8,308.3L481.6,308.7L486.4,309L491.2,309.3L496.1,309.7L500.9,310.4L505.6,311.1L510.4,311.8L515.2,312.6L520,313.6L520,313.6L515.1,314L510.3,314.1L505.4,314.2L500.6,314.2L495.8,314.3L490.9,314.1L486.1,313.8L481.3,313.4L476.5,313.1L471.7,312.8L466.8,312.5L462,312.2L457.2,311.9L452.3,311.5L447.5,311L442.7,310.6L437.9,310.1L433.1,309.7L428.3,309.3L423.5,308.9L418.7,308.4L413.9,307.9L409.1,307.1L404.3,306.4L399.5,305.6L394.8,304.7L390,303.6Z"/>
<path fill="rgb(53,53,53)" d="M464,297L469.4,296.4L474.8,296L480.1,295.7L485.5,295.4L490.9,295.1L496.3,294.8L501.6,294.5L507,294.3L512.4,294.3L517.8,294.3L523.3,294.5L528.7,294.7L534,295L539.4,295.2L544.8,295.5L550.1,295.7L555.5,296L560.9,296.3L566.3,296.5L571.7,296.9L577.1,297.3L582.4,297.8L587.8,298.2L593.1,298.7L598.5,299.1L603.9,299.6L609.2,300L614.5,300.5L619.9,300.8L625.2,301.1L630.6,301.3L636,301.6L641.3,301.9L646.7,302.1L652.1,302.5L657.5,302.9L662.9,303.3L668.2,303.8L673.6,304.2L678.9,304.6L684.1,304.7L689.5,304.8L694.9,304.9L700.3,304.9L705.6,305L711,305.1L716.4,305.4L721.7,305.7L727.1,306L732.5,306.3L737.9,306.6L743.2,307L748.6,307.4L754,308L754,308L748.6,308.6L743.2,309L737.9,309.4L732.5,309.7L727.1,310L721.7,310.3L716.4,310.6L711,310.9L705.6,310.8L700.2,310.7L694.8,310.7L689.4,310.6L684.1,310.5L678.6,310.4L673.1,310L667.8,309.6L662.4,309.1L657,308.7L651.7,308.3L646.4,307.9L641,307.7L635.7,307.4L630.3,307.1L624.9,306.9L619.5,306.6L614.1,306.3L608.7,305.8L603.4,305.4L598,304.9L592.7,304.5L587.3,304L582,303.6L576.6,303.1L571.3,302.7L565.9,302.3L560.6,302L555.2,301.8L549.9,301.5L544.5,301.3L539.1,301L533.7,300.8L528.4,300.5L523,300.2L517.7,300.1L512.4,300.1L507,300L501.6,299.7L496.3,299.4L490.9,299.1L485.5,298.8L480.1,298.4L474.8,298.1L469.4,297.6L464,297Z"/>
<path fill="rgb(23,23,23)" d="M490,297L494.1,296.6L498.3,296.4L502.4,296.2L506.5,296L510.6,295.8L514.7,295.9L518.9,296L523,296.1L527.1,296.1L531.2,296.2L535.3,296.3L539.4,296.4L543.6,296.7L547.7,297.1L551.8,297.4L555.9,297.8L560,298.4L560,298.4L555.9,298.8L551.7,299L547.6,299.2L543.5,299.4L539.4,299.6L535.3,299.5L531.1,299.4L527,299.3L522.9,299.3L518.8,299.2L514.7,299.1L510.6,299L506.4,298.7L502.3,298.3L498.2,298L494.1,297.6L490,297Z"/>
<path fill="rgb(57,57,57)" d="M540,298.5L542,297.7L544,297.2L546,297.1L548,297.1L550,297.1L552,297.3L554,297.9L556,298.7L556,298.7L554,299.5L552,300L550,300.1L548,300.1L546,300.1L544,299.9L542,299.3L540,298.5Z"/>
<path fill="rgb(74,74,74)" d="M239,378L242.4,377.5L245.8,377.2L249.2,376.9L252.5,376.7L255.9,376.7L259.3,376.7L262.7,376.7L266.1,376.7L269.5,376.7L272.9,377L276.2,377.3L279.6,377.7L283,378.2L283,378.2L279.6,378.7L276.2,379L272.8,379.3L269.5,379.5L266.1,379.5L262.7,379.5L259.3,379.5L255.9,379.5L252.5,379.5L249.1,379.2L245.8,378.9L242.4,378.5L239,378Z"/>
<path fill="rgb(74,74,74)" d="M221,362.5L223,362L225,361.6L227,361.5L229,361.5L231,361.5L233,361.6L235,362L237,362.5L237,362.5L235,363L233,363.4L231,363.5L229,363.5L227,363.5L225,363.4L223,363L221,362.5Z"/>
<path fill="rgb(74,74,74)" d="M377.6,371.2L380.7,370.8L383.7,370.6L386.8,370.4L389.9,370.3L392.9,370.3L396,370.3L399,370.3L402.1,370.4L405.2,370.6L408.2,370.8L411.3,371.2L411.3,371.2L408.2,371.6L405.2,371.8L402.1,372L399,372.1L396,372.1L392.9,372.1L389.9,372.1L386.8,372L383.7,371.8L380.7,371.6L377.6,371.2Z"/>
<path fill="rgb(74,74,74)" d="M521.6,336.5L523.6,336.1L525.6,335.8L527.6,335.7L529.6,335.7L531.6,335.7L533.6,335.8L535.6,336.1L537.6,336.5L537.6,336.5L535.6,336.9L533.6,337.2L531.6,337.3L529.6,337.3L527.6,337.3L525.6,337.2L523.6,336.9L521.6,336.5Z"/>
<path fill="rgb(70,70,70)" d="M555.3,376.7L558,376.1L560.8,375.7L563.5,375.3L566.3,375.2L569,375.2L571.8,375.2L574.5,375.2L577.3,375.3L580,375.7L582.8,376.1L585.5,376.7L585.5,376.7L582.8,377.3L580,377.7L577.3,378.1L574.5,378.2L571.8,378.2L569,378.2L566.3,378.2L563.5,378.1L560.8,377.7L558,377.3L555.3,376.7Z"/>
<path fill="rgb(70,70,70)" d="M546.5,381.6L548.5,380.9L550.5,380.5L552.5,380.3L554.5,380.3L556.4,380.3L558.4,380.5L560.4,380.9L562.4,381.6L562.4,381.6L560.4,382.3L558.4,382.7L556.4,382.9L554.5,382.9L552.5,382.9L550.5,382.7L548.5,382.3L546.5,381.6Z"/>
<path fill="rgb(70,70,70)" d="M587.3,378L589.5,377.4L591.6,377L593.8,376.7L596,376.7L598.1,376.7L600.3,376.7L602.5,377L604.6,377.4L606.8,378L606.8,378L604.6,378.6L602.5,379L600.3,379.3L598.1,379.3L596,379.3L593.8,379.3L591.6,379L589.5,378.6L587.3,378Z"/>
<path fill="rgb(70,70,70)" d="M580,384.4L582,383.8L584,383.4L586,383.3L588,383.3L590,383.3L592,383.4L594,383.8L596,384.4L596,384.4L594,385L592,385.4L590,385.5L588,385.5L586,385.5L584,385.4L582,385L580,384.4Z"/>
<path fill="rgb(74,74,74)" d="M742.8,373.6L744.1,372.9L745.5,372.5L746.8,372.3L748.1,372.3L749.5,372.3L750.8,372.5L752.2,372.9L753.5,373.6L753.5,373.6L752.2,374.3L750.8,374.7L749.5,374.9L748.1,374.9L746.8,374.9L745.5,374.7L744.1,374.3L742.8,373.6Z"/>
<path fill="rgb(74,74,74)" d="M754.4,382.8L756.4,382L758.3,381.4L760.2,381.2L762.2,381.2L764.1,381.2L766.1,381.4L768,382L770,382.8L770,382.8L768,383.6L766.1,384.2L764.1,384.4L762.2,384.4L760.2,384.4L758.3,384.2L756.4,383.6L754.4,382.8Z"/>
</g>
<g>
<path fill="rgb(244,244,244)" d="M130,150L780,150L780,256L766.9,255.9L731.3,255.5L693.6,254.9L656,254.6L646.6,254.5L640,255.6L627.8,256.9L615,258.1L602.7,259.1L590,259.8L567.9,260.9L530.3,263.3L492.6,265.2L455,266L420,266.7L362,267.5L336.8,267L305.4,265.5L274,263.2L249,261.4L242.4,260.3L224.7,258.1L189,256.4L130,256.1Z"/>
</g>
<g filter="url(#bl1_4)">
<path fill="rgb(155,155,155)" d="M130,287L200,285L236,283L236,286.5L214,290.5L214,295L130,296Z"/>
<path fill="rgb(142,142,142)" d="M600,282L656,282.5L700,283.5L725,286L760,288L780,288L780,300L700,300L656,299L616,297.5L590,292L584,287Z"/>
<path fill="rgb(223,223,223)" d="M580,286.3L584.4,285.6L588.9,285.1L593.3,284.6L597.7,284.2L602.1,283.8L606.6,283.4L611,283L615.4,282.9L619.9,282.9L624.3,282.8L628.8,282.8L633.2,282.8L637.7,282.8L642.1,282.7L646.5,282.7L651,282.7L655.4,282.9L659.9,283.2L664.4,283.8L668.8,284.4L673.2,285L677.6,285.6L682,286.5L682,286.5L677.5,286.9L673.1,287.1L668.6,287.3L664.2,287.4L659.8,287.6L655.4,287.9L651,288.2L646.6,288.2L642.1,288.2L637.7,288.3L633.2,288.3L628.8,288.3L624.4,288.3L620,288.4L615.5,288.4L611.1,288.5L606.7,288.3L602.2,288.1L597.8,287.8L593.3,287.5L588.9,287.2L584.4,286.9L580,286.3Z"/>
<path fill="rgb(191,191,191)" d="M676,288L677.8,286.9L679.7,286.1L681.5,285.5L683.2,285.5L685,285.8L686.7,286.6L688.3,287.6L690,289L690,289L688.2,290.1L686.3,290.9L684.5,291.5L682.8,291.5L681,291.2L679.3,290.4L677.7,289.4L676,288Z"/>
<path fill="rgb(219,219,219)" d="M606,297.8L610.5,297.3L615,296.9L619.5,296.5L624,296.2L628.5,295.9L633,295.6L637.5,295.4L642,295.4L646.5,295.3L651,295.3L655.5,295.2L659.9,295L664.4,294.7L668.9,294.4L673.4,294.2L677.9,294L682.4,294L686.9,294L691.4,294L696,294L700.5,294.1L705,294.3L705,294.3L700.5,295.1L696.1,295.6L691.6,296.2L687.1,296.7L682.6,297.3L678.1,297.8L673.6,298.2L669.1,298.4L664.7,298.7L660.2,299L655.6,299.2L651.1,299.3L646.6,299.3L642.1,299.4L637.6,299.4L633,299.3L628.5,299.2L624,299L619.5,298.7L615,298.5L610.5,298.2L606,297.8Z"/>
</g>
<g filter="url(#bl0_7)">
<path fill="rgb(244,244,244)" d="M130,260.3L189,260.4L215.8,261.4L242.4,263.6L249,264.7L265,266.5L277,268.5L285,271.3L295,274.2L304,275.3L311.7,274.9L324,274L336.8,273.6L362,273L420,272.2L455,271.6L492.6,270.6L505,270.8L514,273.5L514,274.5L500,278.5L480,279.9L455,280.3L420,281.8L362,282.5L336.8,281.2L324,280.8L311.7,279.9L304,279.3L297,277.6L287,275L277,273.3L265,272.3L249,271.9L215.8,273L189.2,272.8L162.6,271L130,270Z"/>
<path fill="rgb(255,255,255)" d="M130,288.2L150,288.5L158,290.6L150,293.4L130,293.8Z"/>
<path fill="rgb(244,244,244)" d="M596,267.3L602.7,265L615,263.2L630,261L653,259.8L706,260.3L766.9,260.3L780,260.3L780,269.5L766.9,269.6L706,270.3L653,270.5L602.7,270L596,268Z"/>
<path fill="rgb(244,244,244)" d="M613,285.3L625,284.2L650,284L660,284.6L660,286.2L650,286.6L625,286.7Z"/>
<path fill="rgb(244,244,244)" d="M697.4,293.5L718.7,291L743.8,290L766.9,289.7L780,289.7L780,296.3L766.9,296.3L718.7,296L697.4,294.7Z"/>
</g>
<g filter="url(#bl1_0)">
<path fill="rgb(223,223,223)" d="M246,277.4L250,276.2L254.1,275.4L258.1,274.7L262.1,274.1L266.2,273.5L270.2,273L274.2,272.4L278.2,272L282.2,272.6L286.2,273.4L290.4,274.1L294.5,275.3L298.4,276.5L302.3,277.8L306.2,279.2L310,281L310,281L305.9,281.8L301.8,282.2L297.7,282.5L293.6,282.7L289.8,282.9L286,283.4L281.9,284L277.9,284.4L273.9,283.8L269.9,283L265.9,282.3L261.9,281.5L258,280.7L254,279.8L250,278.8L246,277.4Z"/>
<path fill="rgb(191,191,191)" d="M246,277.4L249.8,276.3L253.7,275.5L257.5,274.9L261.3,274.3L265.1,273.8L268.9,273.3L272.8,272.8L276.6,272.9L280.4,273.5L284.3,274.2L288.1,275.1L291.9,276.2L295.6,277.3L299.3,278.4L303,280L303,280L299.1,280.9L295.2,281.3L291.4,281.7L287.6,282L283.8,282.3L280.1,282.8L276.3,283.3L272.5,283.2L268.7,282.6L264.9,281.9L261.1,281.2L257.4,280.4L253.6,279.6L249.8,278.7L246,277.4Z"/>
<path fill="rgb(159,159,159)" d="M246,277.4L249.5,276.4L252.9,275.7L256.3,275.1L259.8,274.5L263.2,274L266.7,273.5L270.1,273.1L273.5,273.7L277,274.3L280.5,274.9L283.9,275.8L287.3,276.7L290.7,277.7L294,279L294,279L290.5,279.9L287,280.4L283.6,280.8L280.2,281.1L276.8,281.6L273.4,282.1L269.9,282.6L266.5,282L263.1,281.4L259.7,280.8L256.2,280.1L252.8,279.4L249.4,278.6L246,277.4Z"/>
<path fill="rgb(117,117,117)" d="M246,277.4L249.2,276.4L252.4,275.8L255.6,275.2L258.7,274.7L261.9,274.3L265.1,273.9L268.2,274.4L271.4,275L274.6,275.7L277.7,276.4L280.9,277.2L284,278.3L284,278.3L280.8,279.3L277.6,279.9L274.4,280.5L271.3,281L268.1,281.4L264.9,281.8L261.8,281.3L258.6,280.7L255.4,280L252.3,279.3L249.1,278.5L246,277.4Z"/>
<path fill="rgb(96,96,96)" d="M246,277.4L249,276.5L252,276L255,275.5L258,275.1L261.1,274.6L264.1,274.7L267,275.2L270,275.8L273,276.4L276,277L279,278L279,278L276,278.9L273,279.4L270,279.9L267,280.3L263.9,280.8L260.9,280.7L258,280.2L255,279.6L252,279L249,278.4L246,277.4Z"/>
<path fill="rgb(64,64,64)" d="M244,277.4L246.7,276.7L249.5,276.3L252.2,275.9L254.9,275.6L257.7,275.3L260.4,275.3L263.1,275.7L265.8,276.2L268.6,276.6L271.3,277.2L274,277.9L274,277.9L271.3,278.6L268.5,279L265.8,279.4L263.1,279.7L260.3,280L257.6,280L254.9,279.6L252.2,279.1L249.4,278.7L246.7,278.1L244,277.4Z"/>
</g>
<g filter="url(#bl1_4)">
<path fill="rgb(166,166,166)" d="M238,252.6L251.3,248.2L296,246.6L324,246.8L324,250.8L300,252.5L300,262.5L274,261L249,259.3L243,257.6Z"/>
<path fill="rgb(79,79,79)" d="M258,248.9L262,248.4L266,248.1L270,247.8L274,247.6L278,247.5L282,247.5L286,247.6L290,247.7L294,247.8L298,247.9L302,248L306,248L310,248.1L314,248.4L318,248.7L322,249.1L326,249.6L326,249.6L322,250L318,250.3L314,250.6L310,250.8L306,250.8L302,250.8L298,250.7L294,250.6L290,250.5L286,250.4L282,250.3L278,250.3L274,250.2L270,250L266,249.7L262,249.4L258,248.9Z"/>
<path fill="rgb(240,240,240)" d="M252,254.2L256.4,253.6L260.9,253.2L265.3,252.9L269.8,252.6L274.2,252.3L278.7,252.3L283.1,252.5L287.5,252.7L292,252.8L296.4,253L300.8,253.3L305.3,253.5L309.7,253.7L314.1,254L318.5,254.2L322.9,254.4L327.3,254.8L331.7,255.2L336.2,255.7L340.6,256.2L345,257L345,257L340.6,257.6L336.1,258L331.7,258.4L327.2,258.7L322.8,259L318.3,259L313.9,258.8L309.4,258.5L305,258.3L300.6,258.1L296.2,257.8L291.8,257.6L287.3,257.5L282.9,257.3L278.5,257.1L274.1,256.9L269.7,256.5L265.3,256L260.8,255.5L256.4,255L252,254.2Z"/>
<path fill="rgb(255,255,255)" d="M288,253.2L300,252.6L336,252.6L336,260.5L318,259.8L300,258.6L288,256.5Z"/>
<path fill="rgb(208,208,208)" d="M566,253L585,249.3L600,247.6L611,247L611,256.5L600,258.6L575,258Z"/>
<path fill="rgb(155,155,155)" d="M608,247.2L622,247L631,250L633,254L622,256.3L608,257.2Z"/>
<path fill="rgb(74,74,74)" d="M617,245.5L620.3,244.4L623.4,244.6L626.7,245L629.9,245.9L632.9,247.3L635.8,248.6L638.6,250.1L641.1,251.5L643.8,251.7L646.9,252L650,253.6L650,253.6L646.8,254.9L643.6,254.9L640.2,254.5L637.1,252.9L634.4,251.5L631.6,250.2L628.8,248.9L626.1,248.2L623.1,247.8L619.9,247.3L617,245.5Z"/>
<path fill="rgb(223,223,223)" d="M566,268L596,264.3L606,267.5L596,270.7Z"/>
</g>
<g filter="url(#bl0_7)">
<path fill="rgb(11,11,11)" d="M130,150L130,164.5L150,162.6L159,161.2L171,159.2L182,158L200,157.6L235,157L235,150Z"/>
<path fill="rgb(11,11,11)" d="M130,177.2L216,177.2L296,176.4L331.5,176.3L358,177.2L372.3,180.7L384.7,185.2L395.3,188.7L411.3,190.5L455.6,191.4L616,191.4L651.5,191L678,191.4L692.3,192.6L692.3,193.4L683.4,196.7L669,199.3L651.5,201.5L633.7,202.7L616,203.4L538,204.3L455.6,204.3L395.3,204.3L379.4,203.2L367,201.5L356.3,196.7L345.7,193.1L322.6,191.9L296,191.2L216,190.5L130,191Z"/>
<path fill="rgb(11,11,11)" d="M400.7,172.2L406,170.1L420.2,167.4L431,166.2L443.2,165.4L440,163.5L430.8,162.1L420.2,160.3L409.5,157.3L405,150L780,150L780,162L766.7,164.3L749.7,167.8L737.8,170.7L731.8,174.2L727.8,175.9L715.3,176.6L695.8,176.4L669.2,176.3L616,176.8L536,176.8L455.6,175.9L429,175L411.3,174.2Z"/>
<path fill="rgb(11,11,11)" d="M726.8,187.1L733.8,182L741.8,179.5L766.7,178.5L780,178.2L780,190.6L766.7,190.4L735.8,189.4Z"/>
<path fill="rgb(11,11,11)" d="M130,204.3L216,203.2L296,204.3L322.6,204.7L340.3,205.6L349.2,207.3L352.8,209.3L352.8,210L345.7,212.6L322.6,215.2L296,216.7L216,216.7L130,216.7Z"/>
<path fill="rgb(11,11,11)" d="M130,228.6L216,229.9L296,230.8L322.6,229.5L331.5,227.7L340.3,225.1L354.5,223.3L367,222.4L384.7,220.6L411.3,218.5L455.6,217.3L536,217.4L562,216.7L616,215L651.5,214.4L665.7,211.8L678,208.2L692.3,206.8L722.4,206.1L780,204.8L780,216.9L722.4,218.9L687,221.5L651.5,224.2L616,225.6L598,226.8L571,228.6L536,229.5L455.6,230L411.3,231.3L384.7,233L367,234.8L349.2,237L322.6,238.7L296,239.3L260,240.5L216,242L189,243.2L130,243.7Z"/>
<path fill="rgb(11,11,11)" d="M130,252.3L189,252.8L224.7,254.5L242.4,257.5L249,258.7L274,260.3L305.4,261.7L336.8,262.6L362,262.8L420,262L455,261.1L492.6,260.5L530.3,258.6L567.9,257.5L590,258L602.7,257.4L615,256.3L627.8,255L640,252.6L646.6,250.6L656,250L693.6,250.4L731.3,251.7L766.9,252.5L780,252.6L780,259.4L766.9,259.4L706,259.4L656,259.2L646.6,258.4L640,258.5L627.8,258.8L615,259.8L602.7,260.8L590,261.6L580,263L567.9,264.4L542.8,267.1L517.7,268.9L492.6,269.9L455,270.9L420,271.4L362,272.1L336.8,271.4L311.7,269.9L292.9,268L274,266.1L249,264.2L242.4,263.1L215.8,260.9L189,259.9L130,259.8Z"/>
<path fill="rgb(11,11,11)" d="M319,249.6L330,248L345,247.2L362,246.2L399.6,243.5L437.3,242L475,241.2L540,240.9L577.6,241.8L602.7,243.1L615.3,244.3L620.3,245.2L620.3,245.5L609,245.9L590.2,246.6L565,247.7L530.3,248.6L475,249.4L437.3,250.5L399.6,251.5L362,252.2L345,252L330,251L319,249.9Z"/>
<path fill="rgb(11,11,11)" d="M614,233.8L625,232.6L640,231.8L656,232.4L712.4,233L737.5,232.7L756.3,231.4L766.9,228.9L780,227L780,244.3L766.9,243.9L731.3,242.7L693.6,240.8L656,239L640,237.3L625,236L614,234.2Z"/>
<path fill="rgb(11,11,11)" d="M130,270.5L162.6,271.6L189.2,273.7L215.8,274.8L242.4,275.6L255,276.5L262,277.4L262,277.8L255,278.8L242.4,279.9L215.8,281.2L189.2,283.5L162.6,285.8L130,286.4Z"/>
<path fill="rgb(11,11,11)" d="M225,290.8L262,290.2L278,288.3L300,287L324,286.4L350,285.7L362,285.3L374,285.5L395,286.7L420,288.2L442,289.2L442,289.6L420,289.8L395,290.8L374,291.5L362,291.8L350,292.2L324,292.7L300,292.8L278,292.3L262,291.4L225,291.2Z"/>
<path fill="rgb(11,11,11)" d="M594,273.6L615,272.6L653,272.2L700,271.3L766.9,270.7L780,270.6L780,287L766.9,286.6L725,285.3L706,283.5L681,281.6L653,281.2L615,280.3L594,278.9Z"/>
</g>
<g filter="url(#bl1_6)">
<path fill="rgb(11,11,11)" d="M326,248.4L296,249.6L326,251.2Z"/>
<path fill="rgb(96,96,96)" d="M300,249.5L297.1,249.1L294.2,248.8L291.3,248.5L288.4,248.4L285.5,248.3L282.6,248.2L279.7,248.2L276.7,248.2L273.8,248.3L270.9,248.5L268,248.8L268,248.8L270.9,249.2L273.8,249.4L276.7,249.7L279.6,249.8L282.5,249.8L285.4,249.9L288.3,250L291.3,250L294.2,249.9L297.1,249.7L300,249.5Z"/>
<path fill="rgb(11,11,11)" d="M590,233.4L617,232.3L617,235.6Z"/>
<path fill="rgb(11,11,11)" d="M600,273.8L560,276.3L600,278.8Z"/>
<path fill="rgb(11,11,11)" d="M685.9,191.9L687.6,191.8L689.4,191.6L691.1,191.5L692.9,191.4L694.6,191.2L696.4,191.1L698.1,190.9L699.9,190.8L700.1,193.8L698.4,193.9L696.6,194.1L694.9,194.2L693.1,194.3L691.4,194.5L689.6,194.6L687.9,194.8L686.1,194.9Z"/>
<path fill="rgb(11,11,11)" d="M699.9,191.5L702.3,191.1L704.8,190.8L707.2,190.4L709.7,190.1L712.1,189.7L714.5,189.2L716.9,188.8L719.2,188.3L721.4,187.3L723.6,186.2L724.4,187.8L722.1,188.8L719.8,189.9L717.3,190.5L714.8,190.9L712.4,191.3L709.9,191.8L707.5,192.1L705,192.5L702.6,192.8L700.1,193.1Z"/>
<path fill="rgb(11,11,11)" d="M723.4,186.5L724.8,185.1L726.1,183.7L727.3,182.2L728.4,180.7L729.6,179.1L730.9,177.6L732.2,176.2L733.4,174.7L734.6,175.7L733.3,177.2L732,178.6L730.8,180.1L729.6,181.6L728.5,183.2L727.2,184.7L725.9,186.1L724.6,187.5Z"/>
<path fill="rgb(74,74,74)" d="M146,275.3L149.2,275L152.5,274.8L155.7,274.6L159,274.5L162.2,274.6L165.4,274.6L168.7,274.7L171.9,274.9L175.1,275L178.3,275.3L181.6,275.7L184.8,276.1L188,276.6L188,276.6L184.8,276.9L181.5,277L178.3,277.1L175,277.2L171.8,277.1L168.6,276.9L165.4,276.8L162.1,276.8L158.9,276.7L155.7,276.4L152.4,276.1L149.2,275.8L146,275.3Z"/>
<path fill="rgb(244,244,244)" d="M600,266L566,268.5L600,269.8Z"/>
<path fill="rgb(244,244,244)" d="M700,293.2L655,297L700,295.2Z"/>
<path fill="rgb(244,244,244)" d="M615,285L586,286L615,286.8Z"/>
<path fill="rgb(244,244,244)" d="M658,284.5L673,285.5L658,286.4Z"/>
<path fill="rgb(244,244,244)" d="M150,289L178,291L150,292.8Z"/>
<path fill="rgb(244,244,244)" d="M296,253.6L262,254.5L296,258.5L335,260L335,253.3Z"/>
</g>
<g filter="url(#bl2_6)">
<path fill="rgb(11,11,11)" d="M222,252.5L242.4,255.8L262,257.6L290,259.6L290,263L262,261.5L242.4,260L222,256.5Z"/>
<path fill="rgb(11,11,11)" d="M379,174.5L410,166.5L410,178Z"/>
<path fill="rgb(11,11,11)" d="M727,186.5L729,180.5L732.5,175.5L738,172.5L736.5,177.5L732.5,183Z"/>
<path fill="rgb(11,11,11)" d="M364,176.5L380,180.2L392,185L400,189L392,191.5L380,188L364,182Z"/>
<path fill="rgb(11,11,11)" d="M340,205.3L356,207.4L371,214.5L356,215.2L340,215Z"/>
<path fill="rgb(11,11,11)" d="M322,229L336,224L352,221.3L352,226L338,230L326,233.5Z"/>
</g>
<g filter="url(#bl1_6)">
<path fill="rgb(11,11,11)" d="M176,152L242,152L242,157.3L210,158.4L186,159.6Z"/>
<ellipse fill="rgb(159,159,159)" cx="558" cy="156.6" rx="20" ry="2.2"/>
<ellipse fill="rgb(159,159,159)" cx="728" cy="157" rx="34" ry="4"/>
</g>
<g filter="url(#bl1_0)">
<path fill="rgb(255,255,255)" d="M120,388L124.2,386.4L128.3,385.3L132.5,385.3L136.7,385.3L140.9,385.2L145.1,385.2L149.2,385.2L153.4,385.2L157.6,385.2L161.7,385.2L165.9,385.1L170.1,385.1L174.3,385.1L178.4,385L182.6,385L186.8,386.1L191,387.6L191,387.6L186.8,389.2L182.7,390.3L178.5,390.4L174.3,390.5L170.1,390.5L166,390.5L161.8,390.6L157.6,390.6L153.4,390.6L149.2,390.6L145.1,390.6L140.9,390.6L136.7,390.7L132.5,390.7L128.4,390.6L124.2,389.6L120,388Z"/>
<path fill="rgb(212,212,212)" d="M189,387.2L191.3,385.8L193.6,385.6L195.9,385.5L198.3,385.4L200.6,385.2L202.9,385.1L205.3,385L207.6,384.9L210,386L210,386L207.7,387.4L205.4,387.6L203.1,387.7L200.7,387.8L198.4,388L196.1,388.1L193.7,388.2L191.4,388.3L189,387.2Z"/>
<path fill="rgb(255,255,255)" d="M226,384.3L230.3,383L234.6,382.1L238.9,381.8L243.2,381.8L247.5,381.7L251.8,381.7L256.1,381.6L260.4,381.6L264.7,381.6L269,381.6L273.3,381.7L277.6,381.7L281.9,381.7L286.2,381.7L290.5,381.8L294.8,381.8L299.1,381.9L303.4,382.2L307.7,383.2L312,384.5L312,384.5L307.7,385.7L303.4,386.4L299.1,386.7L294.8,386.6L290.5,386.6L286.2,386.5L281.9,386.5L277.6,386.5L273.3,386.5L269,386.4L264.7,386.4L260.4,386.4L256.1,386.4L251.8,386.5L247.5,386.5L243.2,386.6L238.9,386.6L234.6,386.3L230.3,385.5L226,384.3Z"/>
<path fill="rgb(202,202,202)" d="M203,382.5L205.5,381.6L208.1,381.5L210.6,381.6L213.1,381.7L215.6,381.9L218.1,382L220.6,382.1L223.1,382.2L225.5,382.4L228,383.6L228,383.6L225.5,384.5L222.9,384.6L220.4,384.5L217.9,384.4L215.4,384.2L212.9,384.1L210.4,384L207.9,383.9L205.5,383.7L203,382.5Z"/>
<path fill="rgb(234,234,234)" d="M310,384.6L314.4,384.4L318.9,384.4L323.3,384.5L327.7,384.8L332.1,385.1L336.5,385.4L340.9,385.7L345.3,386L349.7,386.3L354.1,386.6L358.5,387.4L362.9,388.2L367.2,389.1L371.5,389.9L375.8,390.7L380.2,391.2L384.6,391.7L388.9,392.2L393.3,392.8L397.7,393.6L402,394.6L402,394.6L397.6,394.6L393.1,394.5L388.7,394.2L384.3,393.7L380,393.2L375.5,392.7L371.2,391.9L366.8,391L362.5,390.2L358.2,389.3L353.9,388.6L349.6,388.3L345.2,388L340.7,387.7L336.3,387.4L331.9,387.1L327.5,386.8L323.1,386.5L318.7,386.1L314.4,385.4L310,384.6Z"/>
<path fill="rgb(202,202,202)" d="M331.5,377L333.9,375.6L336.2,375.5L338.6,375.5L341,375.5L343.3,375.5L345.7,375.5L348.1,375.5L350.4,375.6L352.8,377L352.8,377L350.4,378.4L348.1,378.5L345.7,378.5L343.3,378.5L341,378.5L338.6,378.5L336.2,378.5L333.9,378.4L331.5,377Z"/>
<path fill="rgb(255,255,255)" d="M352,376.9L355.9,375.5L359.7,374.5L363.6,374.3L367.6,374.1L371.6,374.2L375.5,374.2L379.4,374.3L383.3,374.4L387.2,374.5L391.1,374.6L395,374.7L398.9,374.8L402.8,374.9L406.7,374.9L410.6,375.1L414.5,376L418.4,377.4L418.4,377.4L414.5,378.6L410.5,379.4L406.6,379.3L402.7,379.3L398.8,379.2L394.9,379.1L391,379L387.1,378.9L383.2,378.8L379.3,378.7L375.4,378.6L371.5,378.6L367.7,378.5L363.8,378.7L359.9,378.8L356,378L352,376.9Z"/>
<path fill="rgb(240,240,240)" d="M418,377.8L422.4,377.4L426.8,377.2L431.2,377.1L435.6,377.2L440,377.4L444.4,377.6L448.8,377.7L453.2,377.9L457.6,378.1L462,378.5L466.4,378.9L470.8,379.2L475.2,379.6L479.6,379.9L484,380.3L488.4,380.7L492.7,381.1L497.1,381.5L501.5,382L505.9,382.7L510.2,383.6L514.5,384.6L514.5,384.6L510.1,384.7L505.6,384.6L501.2,384.4L496.9,383.9L492.5,383.5L488.1,383.1L483.8,382.7L479.4,382.3L475,382L470.6,381.6L466.2,381.2L461.8,380.9L457.5,380.5L453.1,380.3L448.7,380.1L444.3,380L439.9,379.8L435.5,379.6L431.1,379.5L426.8,379.1L422.4,378.5L418,377.8Z"/>
<path fill="rgb(255,255,255)" d="M512.8,392.5L516.5,391.1L520.1,390.7L523.6,390.9L527.2,391.1L530.7,391.4L534.3,391.6L537.9,391.9L541.5,392.2L545,392.6L548.6,392.9L552.1,393.3L555.6,394.3L559,396.3L559,396.3L555.3,397.6L551.7,397.9L548.1,397.5L544.6,397.2L541,396.8L537.5,396.5L534,396.2L530.4,395.9L526.9,395.7L523.3,395.5L519.8,395.3L516.3,394.4L512.8,392.5Z"/>
<path fill="rgb(223,223,223)" d="M559,396.6L561.7,395.4L564.2,395.6L566.6,395.9L569.1,396.2L571.6,396.5L574,396.8L576.5,397.2L579,397.5L581.4,398L583.7,399.8L583.7,399.8L581,401L578.5,400.8L576.1,400.5L573.6,400.2L571.1,399.9L568.7,399.6L566.2,399.2L563.7,398.9L561.3,398.4L559,396.6Z"/>
<path fill="rgb(212,212,212)" d="M604,398L605.6,395.4L607.4,395.3L609.1,395.2L610.9,395.1L612.6,395L614.4,394.9L616.1,394.8L618,397.2L618,397.2L616.4,399.8L614.6,399.9L612.9,400L611.1,400.1L609.4,400.2L607.6,400.3L605.9,400.4L604,398Z"/>
<path fill="rgb(255,255,255)" d="M614,397.4L618,395.3L622,393.7L626.4,392.7L630.7,392.3L635,391.9L639.2,391.5L643.5,391.1L647.8,390.7L652.2,390.5L656.4,390.2L660.7,390L665,389.7L669.3,389.5L673.6,389.2L677.8,388.9L682.1,388.6L686.4,388.4L690.7,388.4L695,388.9L699.4,389.9L699.4,389.9L695.2,391.4L691,392.6L686.7,393.1L682.4,393.4L678.2,393.7L673.9,394L669.6,394.3L665.3,394.5L661,394.8L656.7,395L652.4,395.3L648.2,395.5L643.9,395.9L639.7,396.3L635.4,396.7L631.1,397.1L626.9,397.4L622.8,397.8L618.5,397.8L614,397.4Z"/>
<path fill="rgb(212,212,212)" d="M699.4,389.9L702.1,388.9L704.9,388.7L707.6,388.7L710.4,388.7L713.1,388.7L715.8,388.8L718.6,388.8L721.3,388.8L724,388.8L726.8,389.1L729.5,390.2L729.5,390.2L726.8,391.2L724,391.4L721.3,391.4L718.5,391.4L715.8,391.4L713.1,391.3L710.3,391.3L707.6,391.3L704.9,391.3L702.1,391L699.4,389.9Z"/>
<ellipse fill="rgb(255,255,255)" cx="757" cy="389.2" rx="10.5" ry="3"/>
<path fill="rgb(223,223,223)" d="M420,390L424.2,389.5L428.4,389.2L432.6,389.2L436.8,389.2L441,389.2L445.2,389.2L449.4,389.2L453.6,389.2L457.9,389.2L462.1,389.2L466.3,389.2L470.5,389.2L474.7,389.2L478.9,389.2L483.1,389.2L487.3,389.5L491.5,390L491.5,390L487.3,390.5L483.1,390.8L478.9,390.8L474.7,390.8L470.5,390.8L466.3,390.8L462.1,390.8L457.9,390.8L453.6,390.8L449.4,390.8L445.2,390.8L441,390.8L436.8,390.8L432.6,390.8L428.4,390.8L424.2,390.5L420,390Z"/>
<path fill="rgb(64,64,64)" d="M155.5,383.5L158.4,382.5L161.3,382.3L164.2,382.3L167.1,382.3L170,382.3L172.9,382.4L175.8,382.4L178.7,382.4L181.6,382.4L184.5,382.6L187.4,383.6L187.4,383.6L184.5,384.6L181.6,384.8L178.7,384.8L175.8,384.8L172.9,384.8L170,384.7L167.1,384.7L164.2,384.7L161.3,384.7L158.4,384.5L155.5,383.5Z"/>
<path fill="rgb(23,23,23)" d="M141,394L145.3,392.9L149.5,392.1L153.8,392L158.1,392L162.3,392L166.6,392L170.9,392.1L175.1,392.1L179.4,392.1L183.6,392.1L187.9,392.1L192.2,392.1L196.4,392.1L200.7,392.1L204.9,392L209.2,392L213.5,392.2L217.7,393L222,394.1L222,394.1L217.7,395.2L213.5,396L209.2,396.2L205,396.2L200.7,396.3L196.4,396.3L192.2,396.3L187.9,396.3L183.6,396.3L179.4,396.3L175.1,396.3L170.8,396.3L166.6,396.2L162.3,396.2L158,396.2L153.8,396.2L149.5,395.9L145.3,395.2L141,394Z"/>
<path fill="rgb(62,62,62)" d="M200,390.5L204.9,389.9L209.8,389.5L214.6,389.1L219.5,388.8L224.4,388.9L229.3,388.9L234.1,388.9L239,389L243.9,389L248.8,389.1L253.6,389.1L258.5,389.2L263.4,389.2L268.3,389.2L273.1,389.3L278,389.3L282.9,389.4L287.8,389.4L292.6,389.5L297.5,389.5L302.4,389.6L307.3,389.7L312.2,389.8L317,389.9L321.9,389.9L326.8,390L331.7,390.1L336.5,390.2L341.4,390.6L346.3,391L351.1,391.6L356,392.3L356,392.3L351.1,392.9L346.2,393.2L341.4,393.6L336.5,393.8L331.6,393.7L326.7,393.6L321.8,393.5L317,393.4L312.1,393.4L307.2,393.3L302.3,393.2L297.5,393.1L292.6,393.1L287.7,393L282.9,393L278,392.9L273.1,392.9L268.2,392.8L263.4,392.8L258.5,392.8L253.6,392.7L248.7,392.7L243.9,392.6L239,392.6L234.1,392.5L229.2,392.5L224.4,392.5L219.5,392.4L214.6,392.1L209.7,391.7L204.9,391.2L200,390.5Z"/>
<path fill="rgb(42,42,42)" d="M230,389.2L231.6,387.7L233.1,387.7L234.7,387.7L236.2,387.7L237.8,387.7L239.3,387.7L240.8,387.7L242.4,389.2L242.4,389.2L240.8,390.7L239.3,390.7L237.8,390.7L236.2,390.7L234.7,390.7L233.1,390.7L231.6,390.7L230,389.2Z"/>
<path fill="rgb(42,42,42)" d="M298,393.5L301.5,392.8L305.1,392.5L308.6,392.5L312.2,392.5L315.7,392.5L319.2,392.5L322.8,392.6L326.3,392.6L329.8,392.6L333.4,392.6L336.9,392.6L340.5,392.9L344,393.6L344,393.6L340.5,394.3L336.9,394.6L333.4,394.6L329.8,394.6L326.3,394.6L322.8,394.6L319.2,394.5L315.7,394.5L312.2,394.5L308.6,394.5L305.1,394.5L301.5,394.2L298,393.5Z"/>
<ellipse fill="rgb(66,66,66)" cx="227.3" cy="397.2" rx="9.7" ry="2.8"/>
<ellipse fill="rgb(45,45,45)" cx="382" cy="388.3" rx="24" ry="3.8"/>
<path fill="rgb(62,62,62)" d="M411,386L415.2,384.8L419.5,383.9L423.7,383.7L427.9,383.6L432.2,383.6L436.4,383.6L440.6,383.5L444.9,383.5L449.1,383.5L453.4,383.4L457.6,383.4L461.8,383.4L466.1,383.4L470.3,383.4L474.6,383.4L478.8,383.4L483,383.6L487.3,384.4L491.5,385.6L491.5,385.6L487.3,386.8L483,387.6L478.8,387.8L474.6,387.8L470.3,387.8L466.1,387.8L461.8,387.8L457.6,387.8L453.4,387.8L449.2,387.9L444.9,387.9L440.7,387.9L436.4,388L432.2,388L428,388L423.7,388.1L419.5,387.9L415.2,387.1L411,386Z"/>
<path fill="rgb(36,36,36)" d="M438,385.5L441.9,384.6L445.7,384.2L449.5,384.3L453.3,384.4L457.2,384.6L461,384.8L464.8,384.9L468.7,385.1L472.5,385.3L476.3,385.5L480.1,385.7L483.9,385.9L487.7,386.6L491.5,387.8L491.5,387.8L487.6,388.6L483.8,388.9L480,388.7L476.1,388.5L472.3,388.3L468.5,388.1L464.7,387.9L460.9,387.7L457.1,387.6L453.2,387.4L449.4,387.3L445.6,387.2L441.8,386.6L438,385.5Z"/>
<ellipse fill="rgb(42,42,42)" cx="504.5" cy="389.2" rx="4.6" ry="2"/>
<ellipse fill="rgb(42,42,42)" cx="532.3" cy="389.6" rx="5.4" ry="1.7"/>
<path fill="rgb(23,23,23)" d="M423.7,393.1L427.7,392.3L431.7,391.8L435.7,391.8L439.7,391.8L443.6,391.8L447.6,391.8L451.6,391.8L455.6,391.8L459.6,391.8L463.6,391.8L467.6,391.8L471.6,391.8L475.5,391.8L479.5,391.8L483.5,391.8L487.5,392.3L491.5,393.1L491.5,393.1L487.5,393.9L483.5,394.4L479.5,394.4L475.5,394.4L471.6,394.4L467.6,394.4L463.6,394.4L459.6,394.4L455.6,394.4L451.6,394.4L447.6,394.4L443.6,394.4L439.7,394.4L435.7,394.4L431.7,394.4L427.7,393.9L423.7,393.1Z"/>
<path fill="rgb(66,66,66)" d="M587,390.3L590.8,389L594.6,388.1L598.4,388.1L602.2,388L606.1,388L609.9,388L613.7,387.9L617.4,387.8L621.2,387.5L625,387.3L628.8,387L632.6,386.7L636.4,386.4L640.2,386.2L644.1,386.7L648,387.7L648,387.7L644.3,389.3L640.5,390.3L636.7,390.6L632.9,390.9L629.1,391.2L625.3,391.4L621.5,391.7L617.6,392L613.8,392.1L609.9,392.2L606.1,392.2L602.3,392.2L598.5,392.3L594.7,392.3L590.8,391.5L587,390.3Z"/>
<path fill="rgb(30,30,30)" d="M650,388.2L654.3,386.8L658.6,385.9L662.8,385.8L667,385.5L671.2,385.2L675.5,384.8L679.7,384.4L684,384L688.4,383.6L692.7,383.5L697.1,383.4L701.4,383.4L705.6,383.4L709.9,383.3L714.4,383.3L718.8,383.9L722.9,385.4L727,387.4L727,387.4L722.6,388.2L718.2,388.6L714.1,388.3L710,388.3L705.7,388.4L701.4,388.4L697.1,388.4L692.8,388.5L688.7,388.6L684.5,389L680.2,389.4L675.9,389.8L671.6,390.1L667.3,390.5L662.9,390.8L658.6,390.6L654.3,389.6L650,388.2Z"/>
<path fill="rgb(53,53,53)" d="M727,387.4L729,385.7L730.4,386L731.8,386.4L733.4,386.8L734.9,387.4L736.3,388.1L737.6,388.7L738,391.3L738,391.3L735.8,392.7L734.4,392.1L733.1,391.5L732,391L730.7,390.7L729.3,390.3L727.8,389.9L727,387.4Z"/>
<path fill="rgb(74,74,74)" d="M756,398L757.8,397L759.5,397L761.2,397L763,397L764.8,397L766.5,397L768.2,397L770,398L770,398L768.2,399L766.5,399L764.8,399L763,399L761.2,399L759.5,399L757.8,399L756,398Z"/>
<path fill="rgb(87,87,87)" d="M747,399L749.6,397.1L752.1,397L754.7,397L757.2,397L759.8,397L762.3,397L764.9,397L767.4,397.1L770,399L770,399L767.4,400.9L764.9,401L762.3,401L759.8,401L757.2,401L754.7,401L752.1,401L749.6,400.9L747,399Z"/>
<path fill="rgb(96,96,96)" d="M358,395.3L406,395.3L400,402.4L385,402L385,412L367,412L367,402L358,400Z"/>
<path fill="rgb(96,96,96)" d="M198,395.3L242.4,395.3L242.4,401.5L198,401.5Z"/>
</g>
</g></g>
<path d="M197.99,472V463.5M197.99,158V166.5M261.48,472V463.5M261.48,158V166.5M324.97,472V463.5M324.97,158V166.5M388.46,472V463.5M388.46,158V166.5M451.95,472V463.5M451.95,158V166.5M515.44,472V463.5M515.44,158V166.5M578.93,472V463.5M578.93,158V166.5M642.42,472V463.5M642.42,158V166.5M705.91,472V463.5M705.91,158V166.5M137,393.3H145M767,393.3H759M137,314.5H145M767,314.5H759M137,235.7H145M767,235.7H759" stroke="#000" stroke-width="2" fill="none"/>
<path d="M147.2,472V468.5M147.2,158V161.5M159.9,472V468.5M159.9,158V161.5M172.59,472V468.5M172.59,158V161.5M185.29,472V468.5M185.29,158V161.5M210.69,472V468.5M210.69,158V161.5M223.39,472V468.5M223.39,158V161.5M236.08,472V468.5M236.08,158V161.5M248.78,472V468.5M248.78,158V161.5M274.18,472V468.5M274.18,158V161.5M286.88,472V468.5M286.88,158V161.5M299.57,472V468.5M299.57,158V161.5M312.27,472V468.5M312.27,158V161.5M337.67,472V468.5M337.67,158V161.5M350.37,472V468.5M350.37,158V161.5M363.06,472V468.5M363.06,158V161.5M375.76,472V468.5M375.76,158V161.5M401.16,472V468.5M401.16,158V161.5M413.86,472V468.5M413.86,158V161.5M426.55,472V468.5M426.55,158V161.5M439.25,472V468.5M439.25,158V161.5M464.65,472V468.5M464.65,158V161.5M477.35,472V468.5M477.35,158V161.5M490.04,472V468.5M490.04,158V161.5M502.74,472V468.5M502.74,158V161.5M528.14,472V468.5M528.14,158V161.5M540.84,472V468.5M540.84,158V161.5M553.53,472V468.5M553.53,158V161.5M566.23,472V468.5M566.23,158V161.5M591.63,472V468.5M591.63,158V161.5M604.33,472V468.5M604.33,158V161.5M617.02,472V468.5M617.02,158V161.5M629.72,472V468.5M629.72,158V161.5M655.12,472V468.5M655.12,158V161.5M667.82,472V468.5M667.82,158V161.5M680.51,472V468.5M680.51,158V161.5M693.21,472V468.5M693.21,158V161.5M718.61,472V468.5M718.61,158V161.5M731.31,472V468.5M731.31,158V161.5M744,472V468.5M744,158V161.5M756.7,472V468.5M756.7,158V161.5M137,452.4H141M767,452.4H763M137,432.7H141M767,432.7H763M137,413H141M767,413H763M137,373.6H141M767,373.6H763M137,353.9H141M767,353.9H763M137,334.2H141M767,334.2H763M137,294.8H141M767,294.8H763M137,275.1H141M767,275.1H763M137,255.4H141M767,255.4H763M137,216H141M767,216H763M137,196.3H141M767,196.3H763M137,176.6H141M767,176.6H763" stroke="#000" stroke-width="1.2" fill="none"/>
<rect x="136" y="157" width="632" height="316" fill="none" stroke="#000" stroke-width="2"/>
<rect x="784" y="246.3" width="18" height="22.97" fill="#FF2020"/>
<rect x="784" y="268.97" width="18" height="22.97" fill="#FF5500"/>
<rect x="784" y="291.64" width="18" height="22.97" fill="#FFAA00"/>
<rect x="784" y="314.31" width="18" height="22.97" fill="#FFFF00"/>
<rect x="784" y="336.98" width="18" height="22.97" fill="#80FF00"/>
<rect x="784" y="359.65" width="18" height="22.97" fill="#00FF80"/>
<rect x="784" y="382.32" width="18" height="22.97" fill="#00FFFF"/>
<rect x="784" y="404.99" width="18" height="22.97" fill="#0055FF"/>
<rect x="784" y="427.66" width="18" height="22.97" fill="#0000AA"/>
<rect x="784" y="450.33" width="18" height="22.97" fill="#3300AA"/>
<path d="M784,246.3L793.2,206.5L802,246.3Z" fill="#FFAAAA" stroke="#000" stroke-width="1.6" stroke-linejoin="miter"/>
<path d="M784,473L793.2,515L802,473Z" fill="#8000AA" stroke="#000" stroke-width="1.6" stroke-linejoin="miter"/>
<path d="M784,246.3H802M784,268.97H802M784,291.64H802M784,314.31H802M784,336.98H802M784,359.65H802M784,382.32H802M784,404.99H802M784,427.66H802M784,450.33H802M784,473H802" stroke="#000" stroke-width="1.5" fill="none"/>
<rect x="784" y="246.3" width="18" height="226.7" fill="none" stroke="#000" stroke-width="1.9"/>
<path d="M226.9,98.2L226.9,119.2M226.9,101.2L228.9,99.2L230.9,98.2L233.9,98.2L235.9,99.2L237.9,101.2L238.9,104.2L238.9,106.2L237.9,109.2L235.9,111.2L233.9,112.2L230.9,112.2L228.9,111.2L226.9,109.2M249.2,98.2L247.2,99.2L245.2,101.2L244.2,104.2L244.2,106.2L245.2,109.2L247.2,111.2L249.2,112.2L252.2,112.2L254.2,111.2L256.2,109.2L257.2,106.2L257.2,104.2L256.2,101.2L254.2,99.2L252.2,98.2L249.2,98.2M263.8,91.2L263.8,108.2L264.8,111.2L266.8,112.2L268.8,112.2M260.8,98.2L267.8,98.2M272.3,104.2L284.3,104.2L284.3,102.2L283.3,100.2L282.3,99.2L280.3,98.2L277.3,98.2L275.3,99.2L273.3,101.2L272.3,104.2L272.3,106.2L273.3,109.2L275.3,111.2L277.3,112.2L280.3,112.2L282.3,111.2L284.3,109.2M290.8,98.2L290.8,112.2M290.8,102.2L293.8,99.2L295.8,98.2L298.8,98.2L300.8,99.2L301.8,102.2L301.8,112.2M308.3,91.2L308.3,108.2L309.3,111.2L311.3,112.2L313.3,112.2M305.3,98.2L312.3,98.2M318.6,91.2L319.6,92.2L320.6,91.2L319.6,90.2L318.6,91.2M319.6,98.2L319.6,112.2M337.2,98.2L337.2,112.2M337.2,101.2L335.2,99.2L333.2,98.2L330.2,98.2L328.2,99.2L326.2,101.2L325.2,104.2L325.2,106.2L326.2,109.2L328.2,111.2L330.2,112.2L333.2,112.2L335.2,111.2L337.2,109.2M344,91.2L344,112.2M367.1,91.2L367.1,108.2L368.1,111.2L370.1,112.2L372.1,112.2M364.1,98.2L371.1,98.2M376,104.2L388,104.2L388,102.2L387,100.2L386,99.2L384,98.2L381,98.2L379,99.2L377,101.2L376,104.2L376,106.2L377,109.2L379,111.2L381,112.2L384,112.2L386,111.2L388,109.2M392.9,98.2L392.9,112.2M392.9,102.2L395.22,99.2L396.76,98.2L399.08,98.2L400.63,99.2L401.4,102.2L401.4,112.2M401.4,102.2L403.72,99.2L405.26,98.2L407.58,98.2L409.13,99.2L409.9,102.2L409.9,112.2M419.9,98.2L419.9,119.2M419.9,101.2L421.9,99.2L423.9,98.2L426.9,98.2L428.9,99.2L430.9,101.2L431.9,104.2L431.9,106.2L430.9,109.2L428.9,111.2L426.9,112.2L423.9,112.2L421.9,111.2L419.9,109.2M438.5,104.2L450.5,104.2L450.5,102.2L449.5,100.2L448.5,99.2L446.5,98.2L443.5,98.2L441.5,99.2L439.5,101.2L438.5,104.2L438.5,106.2L439.5,109.2L441.5,111.2L443.5,112.2L446.5,112.2L448.5,111.2L450.5,109.2M457.7,98.2L457.7,112.2M457.7,104.2L458.7,101.2L460.7,99.2L462.7,98.2L465.7,98.2M480.7,98.2L480.7,112.2M480.7,101.2L478.7,99.2L476.7,98.2L473.7,98.2L471.7,99.2L469.7,101.2L468.7,104.2L468.7,106.2L469.7,109.2L471.7,111.2L473.7,112.2L476.7,112.2L478.7,111.2L480.7,109.2M490.1,91.2L490.1,108.2L491.1,111.2L493.1,112.2L495.1,112.2M487.1,98.2L494.1,98.2M500.3,98.2L500.3,108.2L501.3,111.2L503.3,112.2L506.3,112.2L508.3,111.2L511.3,108.2M511.3,98.2L511.3,112.2M520.2,98.2L520.2,112.2M520.2,104.2L521.2,101.2L523.2,99.2L525.2,98.2L528.2,98.2M528.1,104.2L540.1,104.2L540.1,102.2L539.1,100.2L538.1,99.2L536.1,98.2L533.1,98.2L531.1,99.2L529.1,101.2L528.1,104.2L528.1,106.2L529.1,109.2L531.1,111.2L533.1,112.2L536.1,112.2L538.1,111.2L540.1,109.2M567.9,91.2L567.9,112.2M567.9,101.2L565.9,99.2L563.9,98.2L560.9,98.2L558.9,99.2L556.9,101.2L555.9,104.2L555.9,106.2L556.9,109.2L558.9,111.2L560.9,112.2L563.9,112.2L565.9,111.2L567.9,109.2M573.6,104.2L585.6,104.2L585.6,102.2L584.6,100.2L583.6,99.2L581.6,98.2L578.6,98.2L576.6,99.2L574.6,101.2L573.6,104.2L573.6,106.2L574.6,109.2L576.6,111.2L578.6,112.2L581.6,112.2L583.6,111.2L585.6,109.2M588.5,98.2L594.5,112.2M600.5,98.2L594.5,112.2M605.8,91.2L606.8,92.2L607.8,91.2L606.8,90.2L605.8,91.2M606.8,98.2L606.8,112.2M624.5,98.2L624.5,112.2M624.5,101.2L622.5,99.2L620.5,98.2L617.5,98.2L615.5,99.2L613.5,101.2L612.5,104.2L612.5,106.2L613.5,109.2L615.5,111.2L617.5,112.2L620.5,112.2L622.5,111.2L624.5,109.2M631.9,91.2L631.9,108.2L632.9,111.2L634.9,112.2L636.9,112.2M628.9,98.2L635.9,98.2M641.8,91.2L642.8,92.2L643.8,91.2L642.8,90.2L641.8,91.2M642.8,98.2L642.8,112.2M653.2,98.2L651.2,99.2L649.2,101.2L648.2,104.2L648.2,106.2L649.2,109.2L651.2,111.2L653.2,112.2L656.2,112.2L658.2,111.2L660.2,109.2L661.2,106.2L661.2,104.2L660.2,101.2L658.2,99.2L656.2,98.2L653.2,98.2M666.3,98.2L666.3,112.2M666.3,102.2L669.3,99.2L671.3,98.2L674.3,98.2L676.3,99.2L677.3,102.2L677.3,112.2" fill="none" stroke="#000" stroke-width="1.35" stroke-linecap="round" stroke-linejoin="round"/>
<path d="M379.6,529.72L392.2,546.2M392.2,529.72L379.6,546.2M416.7,537.57L415,536L413.3,535.21L410.75,535.21L409.05,536L407.35,537.57L406.5,539.92L406.5,541.49L407.35,543.85L409.05,545.42L410.75,546.2L413.3,546.2L415,545.42L416.7,543.85M423.25,535.21L421.55,536L419.85,537.57L419,539.92L419,541.49L419.85,543.85L421.55,545.42L423.25,546.2L425.8,546.2L427.5,545.42L429.2,543.85L430.05,541.49L430.05,539.92L429.2,537.57L427.5,536L425.8,535.21L423.25,535.21M436.75,535.21L435.05,536L433.35,537.57L432.5,539.92L432.5,541.49L433.35,543.85L435.05,545.42L436.75,546.2L439.3,546.2L441,545.42L442.7,543.85L443.55,541.49L443.55,539.92L442.7,537.57L441,536L439.3,535.21L436.75,535.21M446.2,535.21L446.2,546.2M446.2,539.92L447.05,537.57L448.75,536L450.45,535.21L453,535.21M467.6,529.72L467.6,546.2M467.6,537.57L465.9,536L464.2,535.21L461.65,535.21L459.95,536L458.25,537.57L457.4,539.92L457.4,541.49L458.25,543.85L459.95,545.42L461.65,546.2L464.2,546.2L465.9,545.42L467.6,543.85M472.3,529.72L473.15,530.5L474,529.72L473.15,528.93L472.3,529.72M473.15,535.21L473.15,546.2M479.3,535.21L479.3,546.2M479.3,538.35L481.85,536L483.55,535.21L486.1,535.21L487.8,536L488.65,538.35L488.65,546.2M504,535.21L504,546.2M504,537.57L502.3,536L500.6,535.21L498.05,535.21L496.35,536L494.65,537.57L493.8,539.92L493.8,541.49L494.65,543.85L496.35,545.42L498.05,546.2L500.6,546.2L502.3,545.42L504,543.85M509.45,529.72L509.45,543.06L510.3,545.42L512,546.2L513.7,546.2M506.9,535.21L512.85,535.21M515.3,539.92L525.5,539.92L525.5,538.35L524.65,536.78L523.8,536L522.1,535.21L519.55,535.21L517.85,536L516.15,537.57L515.3,539.92L515.3,541.49L516.15,543.85L517.85,545.42L519.55,546.2L522.1,546.2L523.8,545.42L525.5,543.85" fill="none" stroke="#000" stroke-width="1.55" stroke-linecap="round" stroke-linejoin="round"/>
<path d="M13.1,-16.48L0.5,0M0.5,-16.48L13.1,-16.48M0.5,0L13.1,0M37.6,-8.63L35.9,-10.21L34.2,-10.99L31.65,-10.99L29.95,-10.21L28.25,-8.63L27.4,-6.28L27.4,-4.71L28.25,-2.35L29.95,-0.79L31.65,0L34.2,0L35.9,-0.79L37.6,-2.35M44.15,-10.99L42.45,-10.21L40.75,-8.63L39.9,-6.28L39.9,-4.71L40.75,-2.35L42.45,-0.79L44.15,0L46.7,0L48.4,-0.79L50.1,-2.35L50.95,-4.71L50.95,-6.28L50.1,-8.63L48.4,-10.21L46.7,-10.99L44.15,-10.99M57.65,-10.99L55.95,-10.21L54.25,-8.63L53.4,-6.28L53.4,-4.71L54.25,-2.35L55.95,-0.79L57.65,0L60.2,0L61.9,-0.79L63.6,-2.35L64.45,-4.71L64.45,-6.28L63.6,-8.63L61.9,-10.21L60.2,-10.99L57.65,-10.99M67.1,-10.99L67.1,0M67.1,-6.28L67.95,-8.63L69.65,-10.21L71.35,-10.99L73.9,-10.99M88.5,-16.48L88.5,0M88.5,-8.63L86.8,-10.21L85.1,-10.99L82.55,-10.99L80.85,-10.21L79.15,-8.63L78.3,-6.28L78.3,-4.71L79.15,-2.35L80.85,-0.79L82.55,0L85.1,0L86.8,-0.79L88.5,-2.35M93.2,-16.48L94.05,-15.7L94.9,-16.48L94.05,-17.27L93.2,-16.48M94.05,-10.99L94.05,0M100.2,-10.99L100.2,0M100.2,-7.85L102.75,-10.21L104.45,-10.99L107,-10.99L108.7,-10.21L109.55,-7.85L109.55,0M124.9,-10.99L124.9,0M124.9,-8.63L123.2,-10.21L121.5,-10.99L118.95,-10.99L117.25,-10.21L115.55,-8.63L114.7,-6.28L114.7,-4.71L115.55,-2.35L117.25,-0.79L118.95,0L121.5,0L123.2,-0.79L124.9,-2.35M130.35,-16.48L130.35,-3.14L131.2,-0.79L132.9,0L134.6,0M127.8,-10.99L133.75,-10.99M136.2,-6.28L146.4,-6.28L146.4,-7.85L145.55,-9.42L144.7,-10.21L143,-10.99L140.45,-10.99L138.75,-10.21L137.05,-8.63L136.2,-6.28L136.2,-4.71L137.05,-2.35L138.75,-0.79L140.45,0L143,0L144.7,-0.79L146.4,-2.35" fill="none" stroke="#000" stroke-width="1.55" stroke-linecap="round" stroke-linejoin="round" transform="translate(98.8,386.9) rotate(-90)"/>
<path d="M53.12,122.05L51.8,122.95L50.48,124.3L49.16,126.1L48.5,128.35L48.5,130.15L49.16,132.4L50.48,134.2L51.8,135.55L53.12,136.45M56.9,126L64.5,133.2M64.5,126L56.9,133.2M69.4,125.66L70.72,125.14L72.7,123.58L72.7,134.5M79.2,123.58L79.2,134.5M79.2,123.58L87.78,123.58M79.2,128.78L84.48,128.78M79.2,134.5L87.78,134.5M96.2,123.58L89.6,130.86L99.5,130.86M96.2,123.58L96.2,134.5M110,127.22L110,134.5M110,129.3L111.66,127.74L112.77,127.22L114.44,127.22L115.55,127.74L116.1,129.3L116.1,134.5M116.1,129.3L117.76,127.74L118.87,127.22L120.54,127.22L121.65,127.74L122.2,129.3L122.2,134.5M127.6,122.05L128.92,122.95L130.24,124.3L131.56,126.1L132.22,128.35L132.22,130.15L131.56,132.4L130.24,134.2L128.92,135.55L127.6,136.45" fill="none" stroke="#000" stroke-width="1.5" stroke-linecap="round" stroke-linejoin="round"/>
<path d="M695.32,504.55L694,505.45L692.68,506.8L691.36,508.6L690.7,510.85L690.7,512.65L691.36,514.9L692.68,516.7L694,518.05L695.32,518.95M699.1,508.5L706.7,515.7M706.7,508.5L699.1,515.7M711.6,508.16L712.92,507.64L714.9,506.08L714.9,517M721.4,506.08L721.4,517M721.4,506.08L729.98,506.08M721.4,511.28L726.68,511.28M721.4,517L729.98,517M738.4,506.08L731.8,513.36L741.7,513.36M738.4,506.08L738.4,517M752.2,509.72L752.2,517M752.2,511.8L753.86,510.24L754.97,509.72L756.64,509.72L757.75,510.24L758.3,511.8L758.3,517M758.3,511.8L759.96,510.24L761.07,509.72L762.74,509.72L763.85,510.24L764.4,511.8L764.4,517M769.8,504.55L771.12,505.45L772.44,506.8L773.76,508.6L774.42,510.85L774.42,512.65L773.76,514.9L772.44,516.7L771.12,518.05L769.8,518.95" fill="none" stroke="#000" stroke-width="1.5" stroke-linecap="round" stroke-linejoin="round"/>
<path d="M780.31,156.99L780.31,166.31L780.98,167.95L782.32,168.5L783.66,168.5M778.3,160.83L782.99,160.83M786.8,161.92L795.8,161.92M786.8,165.21L795.8,165.21M808.38,156.99L801.68,168.5M799,156.99L808.38,156.99M810.57,167.4L809.9,167.95L810.57,168.5L811.24,167.95L810.57,167.4M814.77,159.73L814.77,159.18L815.44,158.09L816.11,157.54L817.45,156.99L820.13,156.99L821.47,157.54L822.14,158.09L822.81,159.18L822.81,160.28L822.14,161.38L820.8,163.02L814.1,168.5L823.48,168.5M833.64,158.64L832.97,157.54L830.96,156.99L829.62,156.99L827.61,157.54L826.27,159.18L825.6,161.92L825.6,164.66L826.27,166.86L827.61,167.95L829.62,168.5L830.29,168.5L832.3,167.95L833.64,166.86L834.31,165.21L834.31,164.66L833.64,163.02L832.3,161.92L830.29,161.38L829.62,161.38L827.61,161.92L826.27,163.02L825.6,164.66M837.6,159.18L838.94,158.64L840.95,156.99L840.95,168.5M846.37,159.73L846.37,159.18L847.04,158.09L847.71,157.54L849.05,156.99L851.73,156.99L853.07,157.54L853.74,158.09L854.41,159.18L854.41,160.28L853.74,161.38L852.4,163.02L845.7,168.5L855.08,168.5M857.1,164.12L864.3,164.12L864.3,163.02L863.7,161.92L863.1,161.38L861.9,160.83L860.1,160.83L858.9,161.38L857.7,162.47L857.1,164.12L857.1,165.21L857.7,166.86L858.9,167.95L860.1,168.5L861.9,168.5L863.1,167.95L864.3,166.86M870.32,157.34L870.32,168.5M865.1,162.92L875.54,162.92M882.02,156.99L880.01,157.54L878.67,159.18L878,161.92L878,163.57L878.67,166.31L880.01,167.95L882.02,168.5L883.36,168.5L885.37,167.95L886.71,166.31L887.38,163.57L887.38,161.92L886.71,159.18L885.37,157.54L883.36,156.99L882.02,156.99M896.94,158.64L896.27,157.54L894.26,156.99L892.92,156.99L890.91,157.54L889.57,159.18L888.9,161.92L888.9,164.66L889.57,166.86L890.91,167.95L892.92,168.5L893.59,168.5L895.6,167.95L896.94,166.86L897.61,165.21L897.61,164.66L896.94,163.02L895.6,161.92L893.59,161.38L892.92,161.38L890.91,161.92L889.57,163.02L888.9,164.66" fill="none" stroke="#000" stroke-width="1.05" stroke-linecap="round" stroke-linejoin="round"/>
<path d="M195.09,485.03L196.47,484.45L198.54,482.73L198.54,494.8M257.87,485.6L257.87,485.03L258.56,483.88L259.25,483.3L260.63,482.73L263.39,482.73L264.77,483.3L265.46,483.88L266.15,485.03L266.15,486.18L265.46,487.32L264.08,489.05L257.18,494.8L266.84,494.8M322.05,482.73L329.64,482.73L325.5,487.32L327.57,487.32L328.95,487.9L329.64,488.48L330.33,490.2L330.33,491.35L329.64,493.07L328.26,494.23L326.19,494.8L324.12,494.8L322.05,494.23L321.36,493.65L320.67,492.5M391.06,482.73L384.16,490.78L394.51,490.78M391.06,482.73L391.06,494.8M455.93,482.73L449.03,482.73L448.34,487.9L449.03,487.32L451.1,486.75L453.17,486.75L455.24,487.32L456.62,488.48L457.31,490.2L457.31,491.35L456.62,493.07L455.24,494.23L453.17,494.8L451.1,494.8L449.03,494.23L448.34,493.65L447.65,492.5M519.42,484.45L518.73,483.3L516.66,482.73L515.28,482.73L513.21,483.3L511.83,485.03L511.14,487.9L511.14,490.78L511.83,493.07L513.21,494.23L515.28,494.8L515.97,494.8L518.04,494.23L519.42,493.07L520.11,491.35L520.11,490.78L519.42,489.05L518.04,487.9L515.97,487.32L515.28,487.32L513.21,487.9L511.83,489.05L511.14,490.78M584.29,482.73L577.39,494.8M574.63,482.73L584.29,482.73M641.57,482.73L639.5,483.3L638.81,484.45L638.81,485.6L639.5,486.75L640.88,487.32L643.64,487.9L645.71,488.48L647.09,489.62L647.78,490.78L647.78,492.5L647.09,493.65L646.4,494.23L644.33,494.8L641.57,494.8L639.5,494.23L638.81,493.65L638.12,492.5L638.12,490.78L638.81,489.62L640.19,488.48L642.26,487.9L645.02,487.32L646.4,486.75L647.09,485.6L647.09,484.45L646.4,483.3L644.33,482.73L641.57,482.73M710.58,486.75L709.89,488.48L708.51,489.62L706.44,490.2L705.75,490.2L703.68,489.62L702.3,488.48L701.61,486.75L701.61,486.18L702.3,484.45L703.68,483.3L705.75,482.73L706.44,482.73L708.51,483.3L709.89,484.45L710.58,486.75L710.58,489.62L709.89,492.5L708.51,494.23L706.44,494.8L705.06,494.8L702.99,494.23L702.3,493.07" fill="none" stroke="#000" stroke-width="1.9" stroke-linecap="round" stroke-linejoin="round"/>
<path d="M117.29,390.1L117.29,389.53L117.98,388.38L118.67,387.8L120.05,387.23L122.81,387.23L124.19,387.8L124.88,388.38L125.57,389.53L125.57,390.68L124.88,391.82L123.5,393.55L116.6,399.3L126.26,399.3M123.5,308.43L116.6,316.48L126.95,316.48M123.5,308.43L123.5,320.5M124.88,231.35L124.19,230.2L122.12,229.63L120.74,229.63L118.67,230.2L117.29,231.93L116.6,234.8L116.6,237.68L117.29,239.98L118.67,241.13L120.74,241.7L121.43,241.7L123.5,241.13L124.88,239.98L125.57,238.25L125.57,237.68L124.88,235.95L123.5,234.8L121.43,234.23L120.74,234.23L118.67,234.8L117.29,235.95L116.6,237.68" fill="none" stroke="#000" stroke-width="1.9" stroke-linecap="round" stroke-linejoin="round"/>
<path d="M815.46,263.41L813.63,263.94L812.41,265.54L811.8,268.2L811.8,269.8L812.41,272.47L813.63,274.07L815.46,274.6L816.68,274.6L818.51,274.07L819.73,272.47L820.34,269.8L820.34,268.2L819.73,265.54L818.51,263.94L816.68,263.41L815.46,263.41M822.61,273.53L822,274.07L822.61,274.6L823.22,274.07L822.61,273.53M828.52,263.41L835.23,263.41L831.57,267.67L833.4,267.67L834.62,268.2L835.23,268.74L835.84,270.34L835.84,271.4L835.23,273L834.01,274.07L832.18,274.6L830.35,274.6L828.52,274.07L827.91,273.53L827.3,272.47M837.61,266.07L837.61,265.54L838.22,264.47L838.83,263.94L840.05,263.41L842.49,263.41L843.71,263.94L844.32,264.47L844.93,265.54L844.93,266.61L844.32,267.67L843.1,269.27L837,274.6L845.54,274.6" fill="none" stroke="#000" stroke-width="2" stroke-linecap="round" stroke-linejoin="round"/>
<path d="M815.46,308.41L813.63,308.94L812.41,310.54L811.8,313.2L811.8,314.8L812.41,317.47L813.63,319.07L815.46,319.6L816.68,319.6L818.51,319.07L819.73,317.47L820.34,314.8L820.34,313.2L819.73,310.54L818.51,308.94L816.68,308.41L815.46,308.41M822.61,318.53L822,319.07L822.61,319.6L823.22,319.07L822.61,318.53M828.4,310.54L829.62,310.01L831.45,308.41L831.45,319.6M844.32,310.01L843.71,308.94L841.88,308.41L840.66,308.41L838.83,308.94L837.61,310.54L837,313.2L837,315.87L837.61,318L838.83,319.07L840.66,319.6L841.27,319.6L843.1,319.07L844.32,318L844.93,316.4L844.93,315.87L844.32,314.27L843.1,313.2L841.27,312.67L840.66,312.67L838.83,313.2L837.61,314.27L837,315.87" fill="none" stroke="#000" stroke-width="2" stroke-linecap="round" stroke-linejoin="round"/>
<path d="M815.46,354.11L813.63,354.64L812.41,356.24L811.8,358.9L811.8,360.5L812.41,363.17L813.63,364.77L815.46,365.3L816.68,365.3L818.51,364.77L819.73,363.17L820.34,360.5L820.34,358.9L819.73,356.24L818.51,354.64L816.68,354.11L815.46,354.11" fill="none" stroke="#000" stroke-width="2" stroke-linecap="round" stroke-linejoin="round"/>
<path d="M811.9,405.3L822.1,405.3M828.26,398.91L826.43,399.44L825.21,401.04L824.6,403.7L824.6,405.3L825.21,407.97L826.43,409.57L828.26,410.1L829.48,410.1L831.31,409.57L832.53,407.97L833.14,405.3L833.14,403.7L832.53,401.04L831.31,399.44L829.48,398.91L828.26,398.91M835.81,409.03L835.2,409.57L835.81,410.1L836.42,409.57L835.81,409.03M841.4,401.04L842.62,400.51L844.45,398.91L844.45,410.1M857.32,400.51L856.71,399.44L854.88,398.91L853.66,398.91L851.83,399.44L850.61,401.04L850,403.7L850,406.37L850.61,408.5L851.83,409.57L853.66,410.1L854.27,410.1L856.1,409.57L857.32,408.5L857.93,406.9L857.93,406.37L857.32,404.77L856.1,403.7L854.27,403.17L853.66,403.17L851.83,403.7L850.61,404.77L850,406.37" fill="none" stroke="#000" stroke-width="2" stroke-linecap="round" stroke-linejoin="round"/>
<path d="M811.9,450.6L822.1,450.6M828.26,444.21L826.43,444.74L825.21,446.34L824.6,449L824.6,450.6L825.21,453.27L826.43,454.87L828.26,455.4L829.48,455.4L831.31,454.87L832.53,453.27L833.14,450.6L833.14,449L832.53,446.34L831.31,444.74L829.48,444.21L828.26,444.21M835.81,454.33L835.2,454.87L835.81,455.4L836.42,454.87L835.81,454.33M841.42,444.21L848.13,444.21L844.47,448.47L846.3,448.47L847.52,449L848.13,449.54L848.74,451.14L848.74,452.2L848.13,453.8L846.91,454.87L845.08,455.4L843.25,455.4L841.42,454.87L840.81,454.33L840.2,453.27M850.41,446.87L850.41,446.34L851.02,445.27L851.63,444.74L852.85,444.21L855.29,444.21L856.51,444.74L857.12,445.27L857.73,446.34L857.73,447.4L857.12,448.47L855.9,450.07L849.8,455.4L858.34,455.4" fill="none" stroke="#000" stroke-width="2" stroke-linecap="round" stroke-linejoin="round"/>
</svg>
</body></html>
